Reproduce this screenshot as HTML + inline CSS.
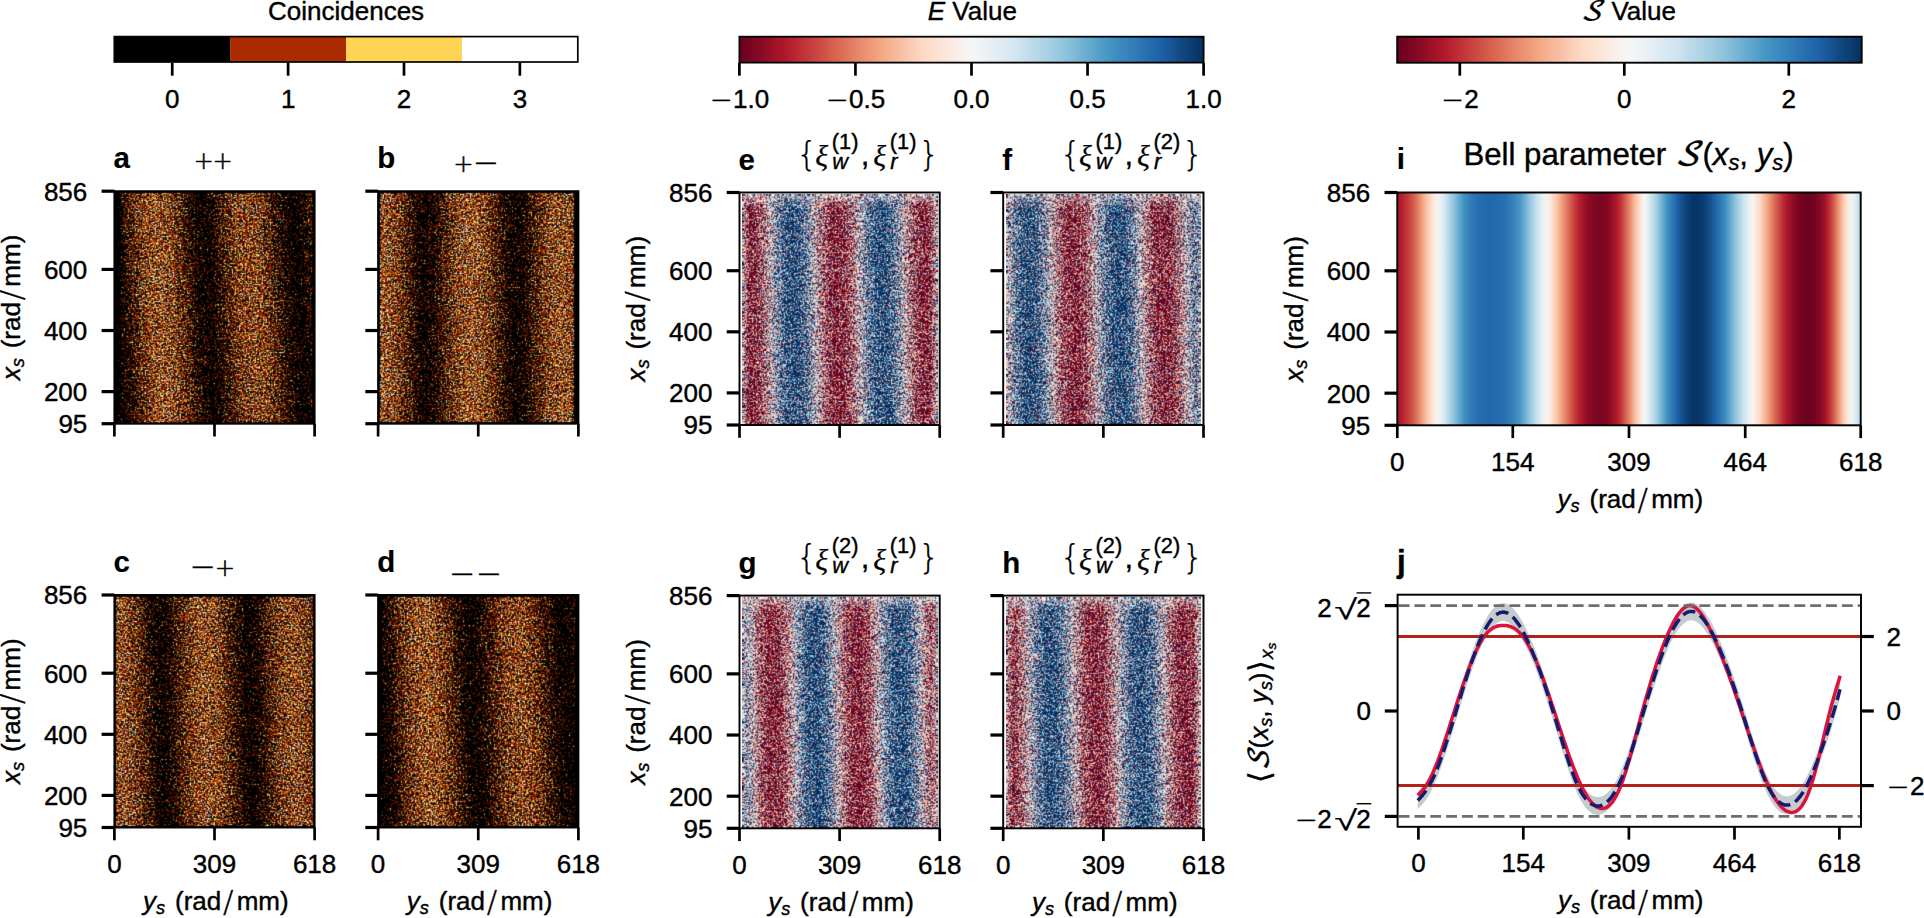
<!DOCTYPE html>
<html lang="en"><head><meta charset="utf-8"><title>Bell parameter figure</title>
<style>html,body{margin:0;padding:0;background:#fff;overflow:hidden}svg{display:block}text{stroke:#000;stroke-width:0.4px;stroke-linejoin:round}</style></head>
<body>
<svg width="1924" height="918" viewBox="0 0 1924 918" font-family="'Liberation Sans', sans-serif" font-size="26" fill="#000">
<rect width="1924" height="918" fill="#fff"/>
<defs><linearGradient id="rdbu" x1="0" x2="1" y1="0" y2="0"><stop offset="0.0000" stop-color="#67001f"/><stop offset="0.0250" stop-color="#790622"/><stop offset="0.0500" stop-color="#8a0b25"/><stop offset="0.0750" stop-color="#9f1228"/><stop offset="0.1000" stop-color="#b1182b"/><stop offset="0.1250" stop-color="#bb2a34"/><stop offset="0.1500" stop-color="#c43b3c"/><stop offset="0.1750" stop-color="#cc4c44"/><stop offset="0.2000" stop-color="#d6604d"/><stop offset="0.2250" stop-color="#dd7059"/><stop offset="0.2500" stop-color="#e58368"/><stop offset="0.2750" stop-color="#ec9374"/><stop offset="0.3000" stop-color="#f3a481"/><stop offset="0.3250" stop-color="#f6b394"/><stop offset="0.3500" stop-color="#f8bfa4"/><stop offset="0.3750" stop-color="#fbceb7"/><stop offset="0.4000" stop-color="#fddbc7"/><stop offset="0.4250" stop-color="#fce2d2"/><stop offset="0.4500" stop-color="#fae9df"/><stop offset="0.4750" stop-color="#f9f0eb"/><stop offset="0.5000" stop-color="#f6f7f7"/><stop offset="0.5250" stop-color="#edf2f5"/><stop offset="0.5500" stop-color="#e4eef4"/><stop offset="0.5750" stop-color="#dae9f2"/><stop offset="0.6000" stop-color="#d1e5f0"/><stop offset="0.6250" stop-color="#c0dceb"/><stop offset="0.6500" stop-color="#b1d5e7"/><stop offset="0.6750" stop-color="#a2cde3"/><stop offset="0.7000" stop-color="#90c4dd"/><stop offset="0.7250" stop-color="#7eb8d7"/><stop offset="0.7500" stop-color="#68abd0"/><stop offset="0.7750" stop-color="#569fc9"/><stop offset="0.8000" stop-color="#4393c3"/><stop offset="0.8250" stop-color="#3a87bd"/><stop offset="0.8500" stop-color="#327cb7"/><stop offset="0.8750" stop-color="#2870b1"/><stop offset="0.9000" stop-color="#2065ab"/><stop offset="0.9250" stop-color="#1a5899"/><stop offset="0.9500" stop-color="#124984"/><stop offset="0.9750" stop-color="#0c3d73"/><stop offset="1.0000" stop-color="#053061"/></linearGradient><linearGradient id="gi" x1="0" x2="1" y1="0" y2="0"><stop offset="0.0000" stop-color="#ab162a"/><stop offset="0.0083" stop-color="#b41c2d"/><stop offset="0.0167" stop-color="#bd2d35"/><stop offset="0.0250" stop-color="#c6413e"/><stop offset="0.0333" stop-color="#d25849"/><stop offset="0.0417" stop-color="#de735c"/><stop offset="0.0500" stop-color="#ec9374"/><stop offset="0.0583" stop-color="#f6b191"/><stop offset="0.0667" stop-color="#fbccb4"/><stop offset="0.0750" stop-color="#fce2d2"/><stop offset="0.0833" stop-color="#f9f0eb"/><stop offset="0.0917" stop-color="#edf2f5"/><stop offset="0.1000" stop-color="#dae9f2"/><stop offset="0.1083" stop-color="#c0dceb"/><stop offset="0.1167" stop-color="#a2cde3"/><stop offset="0.1250" stop-color="#84bcd9"/><stop offset="0.1333" stop-color="#65a9cf"/><stop offset="0.1417" stop-color="#4997c5"/><stop offset="0.1500" stop-color="#3b88be"/><stop offset="0.1583" stop-color="#327cb7"/><stop offset="0.1667" stop-color="#2c75b4"/><stop offset="0.1750" stop-color="#276eb0"/><stop offset="0.1833" stop-color="#246aae"/><stop offset="0.1917" stop-color="#2369ad"/><stop offset="0.2000" stop-color="#2267ac"/><stop offset="0.2083" stop-color="#2369ad"/><stop offset="0.2167" stop-color="#2369ad"/><stop offset="0.2250" stop-color="#266caf"/><stop offset="0.2333" stop-color="#2a71b2"/><stop offset="0.2417" stop-color="#2f79b5"/><stop offset="0.2500" stop-color="#3681ba"/><stop offset="0.2583" stop-color="#3f8ec0"/><stop offset="0.2667" stop-color="#4f9bc7"/><stop offset="0.2750" stop-color="#6bacd1"/><stop offset="0.2833" stop-color="#8ac0db"/><stop offset="0.2917" stop-color="#a7d0e4"/><stop offset="0.3000" stop-color="#c5dfec"/><stop offset="0.3083" stop-color="#dbeaf2"/><stop offset="0.3167" stop-color="#edf2f5"/><stop offset="0.3250" stop-color="#f9f0eb"/><stop offset="0.3333" stop-color="#fce2d2"/><stop offset="0.3417" stop-color="#fbccb4"/><stop offset="0.3500" stop-color="#f6b191"/><stop offset="0.3583" stop-color="#ec9374"/><stop offset="0.3667" stop-color="#df765e"/><stop offset="0.3750" stop-color="#d25849"/><stop offset="0.3833" stop-color="#c43b3c"/><stop offset="0.3917" stop-color="#b72230"/><stop offset="0.4000" stop-color="#a81529"/><stop offset="0.4083" stop-color="#930e26"/><stop offset="0.4167" stop-color="#870a24"/><stop offset="0.4250" stop-color="#7f0823"/><stop offset="0.4333" stop-color="#790622"/><stop offset="0.4417" stop-color="#7c0722"/><stop offset="0.4500" stop-color="#810823"/><stop offset="0.4583" stop-color="#8d0c25"/><stop offset="0.4667" stop-color="#9f1228"/><stop offset="0.4750" stop-color="#b41c2d"/><stop offset="0.4833" stop-color="#c2383a"/><stop offset="0.4917" stop-color="#d55d4c"/><stop offset="0.5000" stop-color="#e58368"/><stop offset="0.5083" stop-color="#f5aa89"/><stop offset="0.5167" stop-color="#fbccb4"/><stop offset="0.5250" stop-color="#fbe5d8"/><stop offset="0.5333" stop-color="#f7f6f6"/><stop offset="0.5417" stop-color="#e1edf3"/><stop offset="0.5500" stop-color="#c7e0ed"/><stop offset="0.5583" stop-color="#a7d0e4"/><stop offset="0.5667" stop-color="#84bcd9"/><stop offset="0.5750" stop-color="#5ca3cb"/><stop offset="0.5833" stop-color="#3f8ec0"/><stop offset="0.5917" stop-color="#327cb7"/><stop offset="0.6000" stop-color="#246aae"/><stop offset="0.6083" stop-color="#1b5a9c"/><stop offset="0.6167" stop-color="#134c87"/><stop offset="0.6250" stop-color="#0e4179"/><stop offset="0.6333" stop-color="#09386d"/><stop offset="0.6417" stop-color="#073467"/><stop offset="0.6500" stop-color="#08366a"/><stop offset="0.6583" stop-color="#0a3b70"/><stop offset="0.6667" stop-color="#0f437b"/><stop offset="0.6750" stop-color="#15508d"/><stop offset="0.6833" stop-color="#1d5fa2"/><stop offset="0.6917" stop-color="#276eb0"/><stop offset="0.7000" stop-color="#337eb8"/><stop offset="0.7083" stop-color="#408fc1"/><stop offset="0.7167" stop-color="#5ca3cb"/><stop offset="0.7250" stop-color="#7eb8d7"/><stop offset="0.7333" stop-color="#9dcbe1"/><stop offset="0.7417" stop-color="#bbdaea"/><stop offset="0.7500" stop-color="#d5e7f1"/><stop offset="0.7583" stop-color="#e7f0f4"/><stop offset="0.7667" stop-color="#f8f4f2"/><stop offset="0.7750" stop-color="#fbe6da"/><stop offset="0.7833" stop-color="#fcd7c2"/><stop offset="0.7917" stop-color="#f8bb9e"/><stop offset="0.8000" stop-color="#f2a17f"/><stop offset="0.8083" stop-color="#e48066"/><stop offset="0.8167" stop-color="#d7634f"/><stop offset="0.8250" stop-color="#c84440"/><stop offset="0.8333" stop-color="#bb2a34"/><stop offset="0.8417" stop-color="#ab162a"/><stop offset="0.8500" stop-color="#960f27"/><stop offset="0.8583" stop-color="#840924"/><stop offset="0.8667" stop-color="#790622"/><stop offset="0.8750" stop-color="#700320"/><stop offset="0.8833" stop-color="#6d0220"/><stop offset="0.8917" stop-color="#6d0220"/><stop offset="0.9000" stop-color="#730421"/><stop offset="0.9083" stop-color="#7f0823"/><stop offset="0.9167" stop-color="#900d26"/><stop offset="0.9250" stop-color="#ab162a"/><stop offset="0.9333" stop-color="#bf3338"/><stop offset="0.9417" stop-color="#d35a4a"/><stop offset="0.9500" stop-color="#e8896c"/><stop offset="0.9583" stop-color="#f7b596"/><stop offset="0.9667" stop-color="#fddbc7"/><stop offset="0.9750" stop-color="#f9eee7"/><stop offset="0.9833" stop-color="#ecf2f5"/><stop offset="0.9917" stop-color="#d5e7f1"/><stop offset="1.0000" stop-color="#b6d7e8"/></linearGradient><filter id="fca" x="0" y="0" width="1" height="1" color-interpolation-filters="sRGB"><feTurbulence type="fractalNoise" baseFrequency="0.71" numOctaves="2" seed="11" result="t"/><feColorMatrix in="t" type="matrix" values="1 0 0 0 0 1 0 0 0 0 1 0 0 0 0 0 0 0 0 1" result="n"/><feComposite in="SourceGraphic" in2="n" operator="arithmetic" k1="0" k2="1" k3="1.27" k4="-0.63" result="v"/><feComponentTransfer in="v"><feFuncR type="discrete" tableValues="0 0 0 0 0 0 0 0 0 0 0 0 0 0 0 0 0 0 0 0 0.667 0.667 0.667 0.667 0.667 0.667 1 1 1 1 1 1 1 1 1 1 1 1 1 1"/><feFuncG type="discrete" tableValues="0 0 0 0 0 0 0 0 0 0 0 0 0 0 0 0 0 0 0 0 0.169 0.169 0.169 0.169 0.169 0.169 0.831 0.831 0.831 0.831 0.831 1 1 1 1 1 1 1 1 1"/><feFuncB type="discrete" tableValues="0 0 0 0 0 0 0 0 0 0 0 0 0 0 0 0 0 0 0 0 0 0 0 0 0 0 0.333 0.333 0.333 0.333 0.333 1 1 1 1 1 1 1 1 1"/></feComponentTransfer><feConvolveMatrix order="3" kernelMatrix="0.0742 0.2723 0.0742 0.2723 1.0000 0.2723 0.0742 0.2723 0.0742" divisor="2.3860" edgeMode="duplicate" preserveAlpha="true"/></filter><filter id="fcb" x="0" y="0" width="1" height="1" color-interpolation-filters="sRGB"><feTurbulence type="fractalNoise" baseFrequency="0.71" numOctaves="2" seed="18" result="t"/><feColorMatrix in="t" type="matrix" values="1 0 0 0 0 1 0 0 0 0 1 0 0 0 0 0 0 0 0 1" result="n"/><feComposite in="SourceGraphic" in2="n" operator="arithmetic" k1="0" k2="1" k3="1.27" k4="-0.63" result="v"/><feComponentTransfer in="v"><feFuncR type="discrete" tableValues="0 0 0 0 0 0 0 0 0 0 0 0 0 0 0 0 0 0 0 0 0.667 0.667 0.667 0.667 0.667 0.667 1 1 1 1 1 1 1 1 1 1 1 1 1 1"/><feFuncG type="discrete" tableValues="0 0 0 0 0 0 0 0 0 0 0 0 0 0 0 0 0 0 0 0 0.169 0.169 0.169 0.169 0.169 0.169 0.831 0.831 0.831 0.831 0.831 1 1 1 1 1 1 1 1 1"/><feFuncB type="discrete" tableValues="0 0 0 0 0 0 0 0 0 0 0 0 0 0 0 0 0 0 0 0 0 0 0 0 0 0 0.333 0.333 0.333 0.333 0.333 1 1 1 1 1 1 1 1 1"/></feComponentTransfer><feConvolveMatrix order="3" kernelMatrix="0.0742 0.2723 0.0742 0.2723 1.0000 0.2723 0.0742 0.2723 0.0742" divisor="2.3860" edgeMode="duplicate" preserveAlpha="true"/></filter><filter id="fcc" x="0" y="0" width="1" height="1" color-interpolation-filters="sRGB"><feTurbulence type="fractalNoise" baseFrequency="0.71" numOctaves="2" seed="25" result="t"/><feColorMatrix in="t" type="matrix" values="1 0 0 0 0 1 0 0 0 0 1 0 0 0 0 0 0 0 0 1" result="n"/><feComposite in="SourceGraphic" in2="n" operator="arithmetic" k1="0" k2="1" k3="1.27" k4="-0.63" result="v"/><feComponentTransfer in="v"><feFuncR type="discrete" tableValues="0 0 0 0 0 0 0 0 0 0 0 0 0 0 0 0 0 0 0 0 0.667 0.667 0.667 0.667 0.667 0.667 1 1 1 1 1 1 1 1 1 1 1 1 1 1"/><feFuncG type="discrete" tableValues="0 0 0 0 0 0 0 0 0 0 0 0 0 0 0 0 0 0 0 0 0.169 0.169 0.169 0.169 0.169 0.169 0.831 0.831 0.831 0.831 0.831 1 1 1 1 1 1 1 1 1"/><feFuncB type="discrete" tableValues="0 0 0 0 0 0 0 0 0 0 0 0 0 0 0 0 0 0 0 0 0 0 0 0 0 0 0.333 0.333 0.333 0.333 0.333 1 1 1 1 1 1 1 1 1"/></feComponentTransfer><feConvolveMatrix order="3" kernelMatrix="0.0742 0.2723 0.0742 0.2723 1.0000 0.2723 0.0742 0.2723 0.0742" divisor="2.3860" edgeMode="duplicate" preserveAlpha="true"/></filter><filter id="fcd" x="0" y="0" width="1" height="1" color-interpolation-filters="sRGB"><feTurbulence type="fractalNoise" baseFrequency="0.71" numOctaves="2" seed="32" result="t"/><feColorMatrix in="t" type="matrix" values="1 0 0 0 0 1 0 0 0 0 1 0 0 0 0 0 0 0 0 1" result="n"/><feComposite in="SourceGraphic" in2="n" operator="arithmetic" k1="0" k2="1" k3="1.27" k4="-0.63" result="v"/><feComponentTransfer in="v"><feFuncR type="discrete" tableValues="0 0 0 0 0 0 0 0 0 0 0 0 0 0 0 0 0 0 0 0 0.667 0.667 0.667 0.667 0.667 0.667 1 1 1 1 1 1 1 1 1 1 1 1 1 1"/><feFuncG type="discrete" tableValues="0 0 0 0 0 0 0 0 0 0 0 0 0 0 0 0 0 0 0 0 0.169 0.169 0.169 0.169 0.169 0.169 0.831 0.831 0.831 0.831 0.831 1 1 1 1 1 1 1 1 1"/><feFuncB type="discrete" tableValues="0 0 0 0 0 0 0 0 0 0 0 0 0 0 0 0 0 0 0 0 0 0 0 0 0 0 0.333 0.333 0.333 0.333 0.333 1 1 1 1 1 1 1 1 1"/></feComponentTransfer><feConvolveMatrix order="3" kernelMatrix="0.0742 0.2723 0.0742 0.2723 1.0000 0.2723 0.0742 0.2723 0.0742" divisor="2.3860" edgeMode="duplicate" preserveAlpha="true"/></filter><filter id="fce" x="0" y="0" width="1" height="1" color-interpolation-filters="sRGB"><feTurbulence type="fractalNoise" baseFrequency="0.71" numOctaves="2" seed="5" result="t"/><feColorMatrix in="t" type="matrix" values="1 0 0 0 0 1 0 0 0 0 1 0 0 0 0 0 0 0 0 1" result="n"/><feColorMatrix in="t" type="matrix" values="0 1 0 0 0 0 1 0 0 0 0 1 0 0 0 0 0 0 0 1" result="n2"/><feComponentTransfer in="SourceGraphic" result="u"><feFuncR type="table" tableValues="0.639 0.639 0.639 0.639 0.639 0.603 0.575 0.55 0.528 0.506 0.485 0.506 0.528 0.55 0.575 0.603 0.639 0.639 0.639 0.639 0.639"/><feFuncG type="table" tableValues="0.639 0.639 0.639 0.639 0.639 0.603 0.575 0.55 0.528 0.506 0.485 0.506 0.528 0.55 0.575 0.603 0.639 0.639 0.639 0.639 0.639"/><feFuncB type="table" tableValues="0.639 0.639 0.639 0.639 0.639 0.603 0.575 0.55 0.528 0.506 0.485 0.506 0.528 0.55 0.575 0.603 0.639 0.639 0.639 0.639 0.639"/></feComponentTransfer><feComposite in="n2" in2="u" operator="arithmetic" k1="0" k2="1" k3="1" k4="-0.5" result="d"/><feComponentTransfer in="d" result="m"><feFuncR type="discrete" tableValues="0 1"/><feFuncG type="discrete" tableValues="0 1"/><feFuncB type="discrete" tableValues="0 1"/></feComponentTransfer><feComposite in="SourceGraphic" in2="n" operator="arithmetic" k1="0" k2="3.6" k3="6.33" k4="-4.46" result="v0"/><feComposite in="v0" in2="m" operator="arithmetic" k1="0.7" k2="0.3" k3="-0.35" k4="0.35" result="v"/><feComponentTransfer in="v"><feFuncR type="table" tableValues="0.404 0.692 0.839 0.955 0.992 0.966 0.82 0.566 0.263 0.127 0.02"/><feFuncG type="table" tableValues="0 0.092 0.376 0.642 0.859 0.967 0.898 0.769 0.576 0.396 0.188"/><feFuncB type="table" tableValues="0.122 0.168 0.302 0.506 0.78 0.968 0.941 0.869 0.765 0.669 0.38"/><feFuncA type="linear" slope="0" intercept="1"/></feComponentTransfer><feConvolveMatrix order="3" kernelMatrix="0.0742 0.2723 0.0742 0.2723 1.0000 0.2723 0.0742 0.2723 0.0742" divisor="2.3860" edgeMode="duplicate" preserveAlpha="true"/></filter><filter id="fcf" x="0" y="0" width="1" height="1" color-interpolation-filters="sRGB"><feTurbulence type="fractalNoise" baseFrequency="0.71" numOctaves="2" seed="18" result="t"/><feColorMatrix in="t" type="matrix" values="1 0 0 0 0 1 0 0 0 0 1 0 0 0 0 0 0 0 0 1" result="n"/><feColorMatrix in="t" type="matrix" values="0 1 0 0 0 0 1 0 0 0 0 1 0 0 0 0 0 0 0 1" result="n2"/><feComponentTransfer in="SourceGraphic" result="u"><feFuncR type="table" tableValues="0.639 0.639 0.639 0.639 0.639 0.603 0.575 0.55 0.528 0.506 0.485 0.506 0.528 0.55 0.575 0.603 0.639 0.639 0.639 0.639 0.639"/><feFuncG type="table" tableValues="0.639 0.639 0.639 0.639 0.639 0.603 0.575 0.55 0.528 0.506 0.485 0.506 0.528 0.55 0.575 0.603 0.639 0.639 0.639 0.639 0.639"/><feFuncB type="table" tableValues="0.639 0.639 0.639 0.639 0.639 0.603 0.575 0.55 0.528 0.506 0.485 0.506 0.528 0.55 0.575 0.603 0.639 0.639 0.639 0.639 0.639"/></feComponentTransfer><feComposite in="n2" in2="u" operator="arithmetic" k1="0" k2="1" k3="1" k4="-0.5" result="d"/><feComponentTransfer in="d" result="m"><feFuncR type="discrete" tableValues="0 1"/><feFuncG type="discrete" tableValues="0 1"/><feFuncB type="discrete" tableValues="0 1"/></feComponentTransfer><feComposite in="SourceGraphic" in2="n" operator="arithmetic" k1="0" k2="3.6" k3="6.33" k4="-4.46" result="v0"/><feComposite in="v0" in2="m" operator="arithmetic" k1="0.7" k2="0.3" k3="-0.35" k4="0.35" result="v"/><feComponentTransfer in="v"><feFuncR type="table" tableValues="0.404 0.692 0.839 0.955 0.992 0.966 0.82 0.566 0.263 0.127 0.02"/><feFuncG type="table" tableValues="0 0.092 0.376 0.642 0.859 0.967 0.898 0.769 0.576 0.396 0.188"/><feFuncB type="table" tableValues="0.122 0.168 0.302 0.506 0.78 0.968 0.941 0.869 0.765 0.669 0.38"/><feFuncA type="linear" slope="0" intercept="1"/></feComponentTransfer><feConvolveMatrix order="3" kernelMatrix="0.0742 0.2723 0.0742 0.2723 1.0000 0.2723 0.0742 0.2723 0.0742" divisor="2.3860" edgeMode="duplicate" preserveAlpha="true"/></filter><filter id="fcg" x="0" y="0" width="1" height="1" color-interpolation-filters="sRGB"><feTurbulence type="fractalNoise" baseFrequency="0.71" numOctaves="2" seed="31" result="t"/><feColorMatrix in="t" type="matrix" values="1 0 0 0 0 1 0 0 0 0 1 0 0 0 0 0 0 0 0 1" result="n"/><feColorMatrix in="t" type="matrix" values="0 1 0 0 0 0 1 0 0 0 0 1 0 0 0 0 0 0 0 1" result="n2"/><feComponentTransfer in="SourceGraphic" result="u"><feFuncR type="table" tableValues="0.639 0.639 0.639 0.639 0.639 0.603 0.575 0.55 0.528 0.506 0.485 0.506 0.528 0.55 0.575 0.603 0.639 0.639 0.639 0.639 0.639"/><feFuncG type="table" tableValues="0.639 0.639 0.639 0.639 0.639 0.603 0.575 0.55 0.528 0.506 0.485 0.506 0.528 0.55 0.575 0.603 0.639 0.639 0.639 0.639 0.639"/><feFuncB type="table" tableValues="0.639 0.639 0.639 0.639 0.639 0.603 0.575 0.55 0.528 0.506 0.485 0.506 0.528 0.55 0.575 0.603 0.639 0.639 0.639 0.639 0.639"/></feComponentTransfer><feComposite in="n2" in2="u" operator="arithmetic" k1="0" k2="1" k3="1" k4="-0.5" result="d"/><feComponentTransfer in="d" result="m"><feFuncR type="discrete" tableValues="0 1"/><feFuncG type="discrete" tableValues="0 1"/><feFuncB type="discrete" tableValues="0 1"/></feComponentTransfer><feComposite in="SourceGraphic" in2="n" operator="arithmetic" k1="0" k2="3.6" k3="6.33" k4="-4.46" result="v0"/><feComposite in="v0" in2="m" operator="arithmetic" k1="0.7" k2="0.3" k3="-0.35" k4="0.35" result="v"/><feComponentTransfer in="v"><feFuncR type="table" tableValues="0.404 0.692 0.839 0.955 0.992 0.966 0.82 0.566 0.263 0.127 0.02"/><feFuncG type="table" tableValues="0 0.092 0.376 0.642 0.859 0.967 0.898 0.769 0.576 0.396 0.188"/><feFuncB type="table" tableValues="0.122 0.168 0.302 0.506 0.78 0.968 0.941 0.869 0.765 0.669 0.38"/><feFuncA type="linear" slope="0" intercept="1"/></feComponentTransfer><feConvolveMatrix order="3" kernelMatrix="0.0742 0.2723 0.0742 0.2723 1.0000 0.2723 0.0742 0.2723 0.0742" divisor="2.3860" edgeMode="duplicate" preserveAlpha="true"/></filter><filter id="fch" x="0" y="0" width="1" height="1" color-interpolation-filters="sRGB"><feTurbulence type="fractalNoise" baseFrequency="0.71" numOctaves="2" seed="44" result="t"/><feColorMatrix in="t" type="matrix" values="1 0 0 0 0 1 0 0 0 0 1 0 0 0 0 0 0 0 0 1" result="n"/><feColorMatrix in="t" type="matrix" values="0 1 0 0 0 0 1 0 0 0 0 1 0 0 0 0 0 0 0 1" result="n2"/><feComponentTransfer in="SourceGraphic" result="u"><feFuncR type="table" tableValues="0.639 0.639 0.639 0.639 0.639 0.603 0.575 0.55 0.528 0.506 0.485 0.506 0.528 0.55 0.575 0.603 0.639 0.639 0.639 0.639 0.639"/><feFuncG type="table" tableValues="0.639 0.639 0.639 0.639 0.639 0.603 0.575 0.55 0.528 0.506 0.485 0.506 0.528 0.55 0.575 0.603 0.639 0.639 0.639 0.639 0.639"/><feFuncB type="table" tableValues="0.639 0.639 0.639 0.639 0.639 0.603 0.575 0.55 0.528 0.506 0.485 0.506 0.528 0.55 0.575 0.603 0.639 0.639 0.639 0.639 0.639"/></feComponentTransfer><feComposite in="n2" in2="u" operator="arithmetic" k1="0" k2="1" k3="1" k4="-0.5" result="d"/><feComponentTransfer in="d" result="m"><feFuncR type="discrete" tableValues="0 1"/><feFuncG type="discrete" tableValues="0 1"/><feFuncB type="discrete" tableValues="0 1"/></feComponentTransfer><feComposite in="SourceGraphic" in2="n" operator="arithmetic" k1="0" k2="3.6" k3="6.33" k4="-4.46" result="v0"/><feComposite in="v0" in2="m" operator="arithmetic" k1="0.7" k2="0.3" k3="-0.35" k4="0.35" result="v"/><feComponentTransfer in="v"><feFuncR type="table" tableValues="0.404 0.692 0.839 0.955 0.992 0.966 0.82 0.566 0.263 0.127 0.02"/><feFuncG type="table" tableValues="0 0.092 0.376 0.642 0.859 0.967 0.898 0.769 0.576 0.396 0.188"/><feFuncB type="table" tableValues="0.122 0.168 0.302 0.506 0.78 0.968 0.941 0.869 0.765 0.669 0.38"/><feFuncA type="linear" slope="0" intercept="1"/></feComponentTransfer><feConvolveMatrix order="3" kernelMatrix="0.0742 0.2723 0.0742 0.2723 1.0000 0.2723 0.0742 0.2723 0.0742" divisor="2.3860" edgeMode="duplicate" preserveAlpha="true"/></filter><linearGradient id="ga" gradientUnits="userSpaceOnUse" x1="161.45" y1="0" x2="252.95" y2="0" spreadMethod="repeat" gradientTransform="translate(0 307.45) skewX(3.08) translate(0 -307.45)"><stop offset="0.0000" stop-color="#949494"/><stop offset="0.0417" stop-color="#939393"/><stop offset="0.0833" stop-color="#919191"/><stop offset="0.1250" stop-color="#8e8e8e"/><stop offset="0.1667" stop-color="#8a8a8a"/><stop offset="0.2083" stop-color="#848484"/><stop offset="0.2500" stop-color="#7d7d7d"/><stop offset="0.2917" stop-color="#767676"/><stop offset="0.3333" stop-color="#6d6d6d"/><stop offset="0.3750" stop-color="#636363"/><stop offset="0.4167" stop-color="#595959"/><stop offset="0.4583" stop-color="#515151"/><stop offset="0.5000" stop-color="#4d4d4d"/><stop offset="0.5417" stop-color="#515151"/><stop offset="0.5833" stop-color="#595959"/><stop offset="0.6250" stop-color="#636363"/><stop offset="0.6667" stop-color="#6d6d6d"/><stop offset="0.7083" stop-color="#767676"/><stop offset="0.7500" stop-color="#7d7d7d"/><stop offset="0.7917" stop-color="#848484"/><stop offset="0.8333" stop-color="#8a8a8a"/><stop offset="0.8750" stop-color="#8e8e8e"/><stop offset="0.9167" stop-color="#919191"/><stop offset="0.9583" stop-color="#939393"/><stop offset="1.0000" stop-color="#949494"/></linearGradient><linearGradient id="rpa" x1="0" y1="0" x2="1" y2="0"><stop offset="0" stop-color="#000" stop-opacity="0"/><stop offset="1" stop-color="#000" stop-opacity="0.07"/></linearGradient><linearGradient id="eLa" x1="0" y1="0" x2="1" y2="0"><stop offset="0" stop-color="#000"/><stop offset="0.125" stop-color="#000"/><stop offset="1" stop-color="#000" stop-opacity="0"/></linearGradient><linearGradient id="eRa" x1="1" y1="0" x2="0" y2="0"><stop offset="0" stop-color="#000"/><stop offset="0.333" stop-color="#000"/><stop offset="1" stop-color="#000" stop-opacity="0"/></linearGradient><linearGradient id="eTa" x1="0" y1="0" x2="0" y2="1"><stop offset="0" stop-color="#000"/><stop offset="0.500" stop-color="#000"/><stop offset="1" stop-color="#000" stop-opacity="0"/></linearGradient><linearGradient id="eBa" x1="0" y1="1" x2="0" y2="0"><stop offset="0" stop-color="#000"/><stop offset="0.333" stop-color="#000"/><stop offset="1" stop-color="#000" stop-opacity="0"/></linearGradient><linearGradient id="gb" gradientUnits="userSpaceOnUse" x1="471.24" y1="0" x2="561.74" y2="0" spreadMethod="repeat" gradientTransform="translate(0 307.45) skewX(0.62) translate(0 -307.45)"><stop offset="0.0000" stop-color="#949494"/><stop offset="0.0417" stop-color="#939393"/><stop offset="0.0833" stop-color="#919191"/><stop offset="0.1250" stop-color="#8e8e8e"/><stop offset="0.1667" stop-color="#8a8a8a"/><stop offset="0.2083" stop-color="#848484"/><stop offset="0.2500" stop-color="#7d7d7d"/><stop offset="0.2917" stop-color="#767676"/><stop offset="0.3333" stop-color="#6d6d6d"/><stop offset="0.3750" stop-color="#636363"/><stop offset="0.4167" stop-color="#595959"/><stop offset="0.4583" stop-color="#515151"/><stop offset="0.5000" stop-color="#4d4d4d"/><stop offset="0.5417" stop-color="#515151"/><stop offset="0.5833" stop-color="#595959"/><stop offset="0.6250" stop-color="#636363"/><stop offset="0.6667" stop-color="#6d6d6d"/><stop offset="0.7083" stop-color="#767676"/><stop offset="0.7500" stop-color="#7d7d7d"/><stop offset="0.7917" stop-color="#848484"/><stop offset="0.8333" stop-color="#8a8a8a"/><stop offset="0.8750" stop-color="#8e8e8e"/><stop offset="0.9167" stop-color="#919191"/><stop offset="0.9583" stop-color="#939393"/><stop offset="1.0000" stop-color="#949494"/></linearGradient><linearGradient id="rpb" x1="0" y1="0" x2="1" y2="0"><stop offset="0" stop-color="#000" stop-opacity="0"/><stop offset="1" stop-color="#000" stop-opacity="0.02"/></linearGradient><linearGradient id="eLb" x1="0" y1="0" x2="1" y2="0"><stop offset="0" stop-color="#000"/><stop offset="0.500" stop-color="#000"/><stop offset="1" stop-color="#000" stop-opacity="0"/></linearGradient><linearGradient id="eRb" x1="1" y1="0" x2="0" y2="0"><stop offset="0" stop-color="#000"/><stop offset="0.800" stop-color="#000"/><stop offset="1" stop-color="#000" stop-opacity="0"/></linearGradient><linearGradient id="eTb" x1="0" y1="0" x2="0" y2="1"><stop offset="0" stop-color="#000"/><stop offset="0.500" stop-color="#000"/><stop offset="1" stop-color="#000" stop-opacity="0"/></linearGradient><linearGradient id="eBb" x1="0" y1="1" x2="0" y2="0"><stop offset="0" stop-color="#000"/><stop offset="0.750" stop-color="#000"/><stop offset="1" stop-color="#000" stop-opacity="0"/></linearGradient><linearGradient id="gc" gradientUnits="userSpaceOnUse" x1="206.49" y1="0" x2="294.99" y2="0" spreadMethod="repeat" gradientTransform="translate(0 711.25) skewX(1.48) translate(0 -711.25)"><stop offset="0.0000" stop-color="#929292"/><stop offset="0.0417" stop-color="#919191"/><stop offset="0.0833" stop-color="#8f8f8f"/><stop offset="0.1250" stop-color="#8c8c8c"/><stop offset="0.1667" stop-color="#888888"/><stop offset="0.2083" stop-color="#838383"/><stop offset="0.2500" stop-color="#7c7c7c"/><stop offset="0.2917" stop-color="#747474"/><stop offset="0.3333" stop-color="#6c6c6c"/><stop offset="0.3750" stop-color="#626262"/><stop offset="0.4167" stop-color="#585858"/><stop offset="0.4583" stop-color="#505050"/><stop offset="0.5000" stop-color="#4c4c4c"/><stop offset="0.5417" stop-color="#505050"/><stop offset="0.5833" stop-color="#585858"/><stop offset="0.6250" stop-color="#626262"/><stop offset="0.6667" stop-color="#6c6c6c"/><stop offset="0.7083" stop-color="#747474"/><stop offset="0.7500" stop-color="#7c7c7c"/><stop offset="0.7917" stop-color="#838383"/><stop offset="0.8333" stop-color="#888888"/><stop offset="0.8750" stop-color="#8c8c8c"/><stop offset="0.9167" stop-color="#8f8f8f"/><stop offset="0.9583" stop-color="#919191"/><stop offset="1.0000" stop-color="#929292"/></linearGradient><linearGradient id="rpc" x1="0" y1="0" x2="1" y2="0"><stop offset="0" stop-color="#000" stop-opacity="0"/><stop offset="1" stop-color="#000" stop-opacity="0.02"/></linearGradient><linearGradient id="eLc" x1="0" y1="0" x2="1" y2="0"><stop offset="0" stop-color="#000"/><stop offset="0.500" stop-color="#000"/><stop offset="1" stop-color="#000" stop-opacity="0"/></linearGradient><linearGradient id="eRc" x1="1" y1="0" x2="0" y2="0"><stop offset="0" stop-color="#000"/><stop offset="0.500" stop-color="#000"/><stop offset="1" stop-color="#000" stop-opacity="0"/></linearGradient><linearGradient id="eTc" x1="0" y1="0" x2="0" y2="1"><stop offset="0" stop-color="#000"/><stop offset="0.500" stop-color="#000"/><stop offset="1" stop-color="#000" stop-opacity="0"/></linearGradient><linearGradient id="eBc" x1="0" y1="1" x2="0" y2="0"><stop offset="0" stop-color="#000"/><stop offset="0.667" stop-color="#000"/><stop offset="1" stop-color="#000" stop-opacity="0"/></linearGradient><linearGradient id="gd" gradientUnits="userSpaceOnUse" x1="428.18" y1="0" x2="520.67" y2="0" spreadMethod="repeat" gradientTransform="translate(0 711.25) skewX(2.46) translate(0 -711.25)"><stop offset="0.0000" stop-color="#949494"/><stop offset="0.0417" stop-color="#939393"/><stop offset="0.0833" stop-color="#919191"/><stop offset="0.1250" stop-color="#8e8e8e"/><stop offset="0.1667" stop-color="#8a8a8a"/><stop offset="0.2083" stop-color="#848484"/><stop offset="0.2500" stop-color="#7d7d7d"/><stop offset="0.2917" stop-color="#767676"/><stop offset="0.3333" stop-color="#6d6d6d"/><stop offset="0.3750" stop-color="#636363"/><stop offset="0.4167" stop-color="#595959"/><stop offset="0.4583" stop-color="#515151"/><stop offset="0.5000" stop-color="#4d4d4d"/><stop offset="0.5417" stop-color="#515151"/><stop offset="0.5833" stop-color="#595959"/><stop offset="0.6250" stop-color="#636363"/><stop offset="0.6667" stop-color="#6d6d6d"/><stop offset="0.7083" stop-color="#767676"/><stop offset="0.7500" stop-color="#7d7d7d"/><stop offset="0.7917" stop-color="#848484"/><stop offset="0.8333" stop-color="#8a8a8a"/><stop offset="0.8750" stop-color="#8e8e8e"/><stop offset="0.9167" stop-color="#919191"/><stop offset="0.9583" stop-color="#939393"/><stop offset="1.0000" stop-color="#949494"/></linearGradient><linearGradient id="rpd" x1="0" y1="0" x2="1" y2="0"><stop offset="0" stop-color="#000" stop-opacity="0"/><stop offset="1" stop-color="#000" stop-opacity="0.06"/></linearGradient><linearGradient id="eLd" x1="0" y1="0" x2="1" y2="0"><stop offset="0" stop-color="#000"/><stop offset="0.500" stop-color="#000"/><stop offset="1" stop-color="#000" stop-opacity="0"/></linearGradient><linearGradient id="eRd" x1="1" y1="0" x2="0" y2="0"><stop offset="0" stop-color="#000"/><stop offset="0.500" stop-color="#000"/><stop offset="1" stop-color="#000" stop-opacity="0"/></linearGradient><linearGradient id="eTd" x1="0" y1="0" x2="0" y2="1"><stop offset="0" stop-color="#000"/><stop offset="0.500" stop-color="#000"/><stop offset="1" stop-color="#000" stop-opacity="0"/></linearGradient><linearGradient id="eBd" x1="0" y1="1" x2="0" y2="0"><stop offset="0" stop-color="#000"/><stop offset="0.667" stop-color="#000"/><stop offset="1" stop-color="#000" stop-opacity="0"/></linearGradient><linearGradient id="ge" gradientUnits="userSpaceOnUse" x1="793.55" y1="0" x2="882.05" y2="0" spreadMethod="repeat" gradientTransform="translate(0 308.75) skewX(0.74) translate(0 -308.75)"><stop offset="0.0000" stop-color="#cccccc"/><stop offset="0.0625" stop-color="#c6c6c6"/><stop offset="0.1250" stop-color="#b6b6b6"/><stop offset="0.1875" stop-color="#9d9d9d"/><stop offset="0.2500" stop-color="#808080"/><stop offset="0.3125" stop-color="#626262"/><stop offset="0.3750" stop-color="#494949"/><stop offset="0.4375" stop-color="#393939"/><stop offset="0.5000" stop-color="#333333"/><stop offset="0.5625" stop-color="#393939"/><stop offset="0.6250" stop-color="#494949"/><stop offset="0.6875" stop-color="#626262"/><stop offset="0.7500" stop-color="#808080"/><stop offset="0.8125" stop-color="#9d9d9d"/><stop offset="0.8750" stop-color="#b6b6b6"/><stop offset="0.9375" stop-color="#c6c6c6"/><stop offset="1.0000" stop-color="#cccccc"/></linearGradient><linearGradient id="gtop" x1="0" y1="0" x2="0" y2="1"><stop offset="0" stop-color="#808080" stop-opacity="0.8"/><stop offset="0.4" stop-color="#808080" stop-opacity="0.45"/><stop offset="1" stop-color="#808080" stop-opacity="0"/></linearGradient><linearGradient id="glft" x1="0" y1="0" x2="1" y2="0"><stop offset="0" stop-color="#808080" stop-opacity="0.85"/><stop offset="0.45" stop-color="#808080" stop-opacity="0.5"/><stop offset="1" stop-color="#808080" stop-opacity="0"/></linearGradient><linearGradient id="grgt" x1="1" y1="0" x2="0" y2="0"><stop offset="0" stop-color="#808080" stop-opacity="0.85"/><stop offset="0.45" stop-color="#808080" stop-opacity="0.5"/><stop offset="1" stop-color="#808080" stop-opacity="0"/></linearGradient><linearGradient id="wtop" x1="0" y1="0" x2="0" y2="1"><stop offset="0" stop-color="#fff" stop-opacity="0.15"/><stop offset="1" stop-color="#fff" stop-opacity="0"/></linearGradient><linearGradient id="gf" gradientUnits="userSpaceOnUse" x1="1029.24" y1="0" x2="1119.24" y2="0" spreadMethod="repeat" gradientTransform="translate(0 308.75) skewX(0.74) translate(0 -308.75)"><stop offset="0.0000" stop-color="#cccccc"/><stop offset="0.0625" stop-color="#c6c6c6"/><stop offset="0.1250" stop-color="#b6b6b6"/><stop offset="0.1875" stop-color="#9d9d9d"/><stop offset="0.2500" stop-color="#808080"/><stop offset="0.3125" stop-color="#626262"/><stop offset="0.3750" stop-color="#494949"/><stop offset="0.4375" stop-color="#393939"/><stop offset="0.5000" stop-color="#333333"/><stop offset="0.5625" stop-color="#393939"/><stop offset="0.6250" stop-color="#494949"/><stop offset="0.6875" stop-color="#626262"/><stop offset="0.7500" stop-color="#808080"/><stop offset="0.8125" stop-color="#9d9d9d"/><stop offset="0.8750" stop-color="#b6b6b6"/><stop offset="0.9375" stop-color="#c6c6c6"/><stop offset="1.0000" stop-color="#cccccc"/></linearGradient><linearGradient id="gg" gradientUnits="userSpaceOnUse" x1="815.58" y1="0" x2="900.58" y2="0" spreadMethod="repeat" gradientTransform="translate(0 711.95) skewX(0.74) translate(0 -711.95)"><stop offset="0.0000" stop-color="#cccccc"/><stop offset="0.0625" stop-color="#c6c6c6"/><stop offset="0.1250" stop-color="#b6b6b6"/><stop offset="0.1875" stop-color="#9d9d9d"/><stop offset="0.2500" stop-color="#808080"/><stop offset="0.3125" stop-color="#626262"/><stop offset="0.3750" stop-color="#494949"/><stop offset="0.4375" stop-color="#393939"/><stop offset="0.5000" stop-color="#333333"/><stop offset="0.5625" stop-color="#393939"/><stop offset="0.6250" stop-color="#494949"/><stop offset="0.6875" stop-color="#626262"/><stop offset="0.7500" stop-color="#808080"/><stop offset="0.8125" stop-color="#9d9d9d"/><stop offset="0.8750" stop-color="#b6b6b6"/><stop offset="0.9375" stop-color="#c6c6c6"/><stop offset="1.0000" stop-color="#cccccc"/></linearGradient><linearGradient id="gh" gradientUnits="userSpaceOnUse" x1="1051.27" y1="0" x2="1141.27" y2="0" spreadMethod="repeat" gradientTransform="translate(0 711.95) skewX(0.74) translate(0 -711.95)"><stop offset="0.0000" stop-color="#cccccc"/><stop offset="0.0625" stop-color="#c6c6c6"/><stop offset="0.1250" stop-color="#b6b6b6"/><stop offset="0.1875" stop-color="#9d9d9d"/><stop offset="0.2500" stop-color="#808080"/><stop offset="0.3125" stop-color="#626262"/><stop offset="0.3750" stop-color="#494949"/><stop offset="0.4375" stop-color="#393939"/><stop offset="0.5000" stop-color="#333333"/><stop offset="0.5625" stop-color="#393939"/><stop offset="0.6250" stop-color="#494949"/><stop offset="0.6875" stop-color="#626262"/><stop offset="0.7500" stop-color="#808080"/><stop offset="0.8125" stop-color="#9d9d9d"/><stop offset="0.8750" stop-color="#b6b6b6"/><stop offset="0.9375" stop-color="#c6c6c6"/><stop offset="1.0000" stop-color="#cccccc"/></linearGradient></defs>
<rect x="114.3" y="36.6" width="116.17" height="25.4" fill="#000000"/>
<rect x="230.17" y="36.6" width="116.17" height="25.4" fill="#aa2b00"/>
<rect x="346.05" y="36.6" width="116.17" height="25.4" fill="#ffd455"/>
<rect x="461.92" y="36.6" width="116.17" height="25.4" fill="#ffffff"/>
<rect x="114.3" y="36.6" width="463.5" height="25.4" fill="none" stroke="#000" stroke-width="1.7"/>
<line x1="172.24" y1="62.8" x2="172.24" y2="75.7" stroke="#000" stroke-width="2.7" />
<text x="172.24" y="107.8" text-anchor="middle" font-size="26" >0</text>
<line x1="288.11" y1="62.8" x2="288.11" y2="75.7" stroke="#000" stroke-width="2.7" />
<text x="288.11" y="107.8" text-anchor="middle" font-size="26" >1</text>
<line x1="403.99" y1="62.8" x2="403.99" y2="75.7" stroke="#000" stroke-width="2.7" />
<text x="403.99" y="107.8" text-anchor="middle" font-size="26" >2</text>
<line x1="519.86" y1="62.8" x2="519.86" y2="75.7" stroke="#000" stroke-width="2.7" />
<text x="519.86" y="107.8" text-anchor="middle" font-size="26" >3</text>
<text x="346.05" y="20" text-anchor="middle" font-size="26" >Coincidences</text>
<rect x="739.4" y="36.7" width="464.2" height="26" fill="url(#rdbu)"/>
<rect x="739.4" y="36.7" width="464.2" height="25.9" fill="none" stroke="#000" stroke-width="1.8"/>
<line x1="739.4" y1="62.8" x2="739.4" y2="75.7" stroke="#000" stroke-width="2.7" />
<text x="739.4" y="107.8" text-anchor="middle" font-size="26" ><tspan font-family="'DejaVu Sans Light', 'DejaVu Sans', sans-serif" font-weight="200" font-size="27.56" dy="1">−</tspan><tspan dy="-1" font-size="1"> </tspan><tspan font-size="26">1.0</tspan></text>
<line x1="855.45" y1="62.8" x2="855.45" y2="75.7" stroke="#000" stroke-width="2.7" />
<text x="855.45" y="107.8" text-anchor="middle" font-size="26" ><tspan font-family="'DejaVu Sans Light', 'DejaVu Sans', sans-serif" font-weight="200" font-size="27.56" dy="1">−</tspan><tspan dy="-1" font-size="1"> </tspan><tspan font-size="26">0.5</tspan></text>
<line x1="971.5" y1="62.8" x2="971.5" y2="75.7" stroke="#000" stroke-width="2.7" />
<text x="971.5" y="107.8" text-anchor="middle" font-size="26" >0.0</text>
<line x1="1087.55" y1="62.8" x2="1087.55" y2="75.7" stroke="#000" stroke-width="2.7" />
<text x="1087.55" y="107.8" text-anchor="middle" font-size="26" >0.5</text>
<line x1="1203.6" y1="62.8" x2="1203.6" y2="75.7" stroke="#000" stroke-width="2.7" />
<text x="1203.6" y="107.8" text-anchor="middle" font-size="26" >1.0</text>
<text x="972.3" y="20" text-anchor="middle" font-size="26" ><tspan font-style="italic">E</tspan> Value</text>
<rect x="1397.2" y="36.7" width="464.5" height="26" fill="url(#rdbu)"/>
<rect x="1397.2" y="36.7" width="464.5" height="26" fill="none" stroke="#000" stroke-width="1.9"/>
<line x1="1459.8" y1="62.8" x2="1459.8" y2="75.7" stroke="#000" stroke-width="2.7" />
<text x="1459.8" y="107.8" text-anchor="middle" font-size="26" ><tspan font-family="'DejaVu Sans Light', 'DejaVu Sans', sans-serif" font-weight="200" font-size="27.56" dy="1">−</tspan><tspan dy="-1" font-size="1"> </tspan><tspan font-size="26">2</tspan></text>
<line x1="1624.3" y1="62.8" x2="1624.3" y2="75.7" stroke="#000" stroke-width="2.7" />
<text x="1624.3" y="107.8" text-anchor="middle" font-size="26" >0</text>
<line x1="1788.8" y1="62.8" x2="1788.8" y2="75.7" stroke="#000" stroke-width="2.7" />
<text x="1788.8" y="107.8" text-anchor="middle" font-size="26" >2</text>
<text x="1628.45" y="20" text-anchor="middle" font-size="26" ><tspan font-family="'DejaVu Math TeX Gyre', 'DejaVu Serif', serif" font-size="27" font-style="italic">𝒮</tspan><tspan dx="2.5"> Value</tspan></text>
<g filter="url(#fca)">
<rect x="114.4" y="191.2" width="200.2" height="232.5" fill="url(#ga)"/>
<rect x="114.4" y="191.2" width="200.2" height="232.5" fill="url(#rpa)"/><rect x="114.4" y="191.2" width="8" height="232.5" fill="url(#eLa)"/><rect x="311.6" y="191.2" width="3" height="232.5" fill="url(#eRa)"/><rect x="114.4" y="191.2" width="200.2" height="2" fill="url(#eTa)"/><rect x="114.4" y="422.2" width="200.2" height="1.5" fill="url(#eBa)"/>
</g>
<g filter="url(#fcb)">
<rect x="378.1" y="191.2" width="200.3" height="232.5" fill="url(#gb)"/>
<rect x="378.1" y="191.2" width="200.3" height="232.5" fill="url(#rpb)"/><rect x="378.1" y="191.2" width="2" height="232.5" fill="url(#eLb)"/><rect x="573.4" y="191.2" width="5" height="232.5" fill="url(#eRb)"/><rect x="378.1" y="191.2" width="200.3" height="2" fill="url(#eTb)"/><rect x="378.1" y="421.7" width="200.3" height="2" fill="url(#eBb)"/>
</g>
<g filter="url(#fcc)">
<rect x="114.4" y="595" width="200.2" height="232.5" fill="url(#gc)"/>
<rect x="114.4" y="595" width="200.2" height="232.5" fill="url(#rpc)"/><rect x="114.4" y="595" width="2" height="232.5" fill="url(#eLc)"/><rect x="312.6" y="595" width="2" height="232.5" fill="url(#eRc)"/><rect x="114.4" y="595" width="200.2" height="2" fill="url(#eTc)"/><rect x="114.4" y="826" width="200.2" height="1.5" fill="url(#eBc)"/>
</g>
<g filter="url(#fcd)">
<rect x="378.1" y="595" width="200.3" height="232.5" fill="url(#gd)"/>
<rect x="378.1" y="595" width="200.3" height="232.5" fill="url(#rpd)"/><rect x="378.1" y="595" width="4" height="232.5" fill="url(#eLd)"/><rect x="574.4" y="595" width="4" height="232.5" fill="url(#eRd)"/><rect x="378.1" y="595" width="200.3" height="2" fill="url(#eTd)"/><rect x="378.1" y="826" width="200.3" height="1.5" fill="url(#eBd)"/>
</g>
<g filter="url(#fce)">
<rect x="742.5" y="194.3" width="194.6" height="230.2" fill="url(#ge)"/>
<rect x="742.5" y="194.3" width="194.6" height="14" fill="url(#gtop)"/>
<rect x="742.5" y="194.3" width="7" height="230.2" fill="url(#glft)"/>
<rect x="930.1" y="194.3" width="7" height="230.2" fill="url(#grgt)"/>
</g>
<rect x="742.5" y="194.3" width="194.6" height="10" fill="url(#wtop)"/>
<g filter="url(#fcf)">
<rect x="1006.2" y="194.3" width="194.7" height="230.2" fill="url(#gf)"/>
<rect x="1006.2" y="194.3" width="194.7" height="14" fill="url(#gtop)"/>
<rect x="1006.2" y="194.3" width="7" height="230.2" fill="url(#glft)"/>
<rect x="1193.9" y="194.3" width="7" height="230.2" fill="url(#grgt)"/>
</g>
<rect x="1006.2" y="194.3" width="194.7" height="10" fill="url(#wtop)"/>
<g filter="url(#fcg)">
<rect x="742.5" y="597.4" width="194.6" height="230.4" fill="url(#gg)"/>
<rect x="742.5" y="597.4" width="194.6" height="14" fill="url(#gtop)"/>
<rect x="742.5" y="597.4" width="7" height="230.4" fill="url(#glft)"/>
<rect x="930.1" y="597.4" width="7" height="230.4" fill="url(#grgt)"/>
</g>
<rect x="742.5" y="597.4" width="194.6" height="10" fill="url(#wtop)"/>
<g filter="url(#fch)">
<rect x="1006.2" y="597.4" width="194.7" height="230.4" fill="url(#gh)"/>
<rect x="1006.2" y="597.4" width="194.7" height="14" fill="url(#gtop)"/>
<rect x="1006.2" y="597.4" width="7" height="230.4" fill="url(#glft)"/>
<rect x="1193.9" y="597.4" width="7" height="230.4" fill="url(#grgt)"/>
</g>
<rect x="1006.2" y="597.4" width="194.7" height="10" fill="url(#wtop)"/>
<rect x="114.4" y="191.2" width="200.2" height="232.5" fill="none" stroke="#000" stroke-width="1.95"/>
<line x1="101.6" y1="191.2" x2="114.4" y2="191.2" stroke="#000" stroke-width="3.2" />
<text x="87.3" y="200.6" text-anchor="end" font-size="26" >856</text>
<line x1="101.6" y1="269.41" x2="114.4" y2="269.41" stroke="#000" stroke-width="3.2" />
<text x="87.3" y="278.81" text-anchor="end" font-size="26" >600</text>
<line x1="101.6" y1="330.52" x2="114.4" y2="330.52" stroke="#000" stroke-width="3.2" />
<text x="87.3" y="339.92" text-anchor="end" font-size="26" >400</text>
<line x1="101.6" y1="391.62" x2="114.4" y2="391.62" stroke="#000" stroke-width="3.2" />
<text x="87.3" y="401.02" text-anchor="end" font-size="26" >200</text>
<line x1="101.6" y1="423.7" x2="114.4" y2="423.7" stroke="#000" stroke-width="3.2" />
<text x="87.3" y="433.1" text-anchor="end" font-size="26" >95</text>
<line x1="114.4" y1="423.7" x2="114.4" y2="436.5" stroke="#000" stroke-width="2.7" />
<line x1="214.5" y1="423.7" x2="214.5" y2="436.5" stroke="#000" stroke-width="2.7" />
<line x1="314.6" y1="423.7" x2="314.6" y2="436.5" stroke="#000" stroke-width="2.7" />
<text x="113.5" y="168.3" text-anchor="start" font-size="29.5" font-weight="bold" style="stroke-width:0.15px">a</text>
<text transform="translate(19.8 307.45) rotate(-90)" text-anchor="middle" font-size="26"><tspan font-style="italic">x</tspan><tspan font-style="italic" font-size="18.2" dy="3.9">s</tspan><tspan dy="-3.9" dx="2.6"> (rad</tspan><tspan font-family="'DejaVu Sans Light', 'DejaVu Sans', sans-serif" font-weight="200" font-size="31" dx="1.8" dy="2.2">/</tspan><tspan dy="-2.2" dx="3.2">mm)</tspan></text>
<rect x="378.1" y="191.2" width="200.3" height="232.5" fill="none" stroke="#000" stroke-width="1.95"/>
<line x1="365.3" y1="191.2" x2="378.1" y2="191.2" stroke="#000" stroke-width="3.2" />
<line x1="365.3" y1="269.41" x2="378.1" y2="269.41" stroke="#000" stroke-width="3.2" />
<line x1="365.3" y1="330.52" x2="378.1" y2="330.52" stroke="#000" stroke-width="3.2" />
<line x1="365.3" y1="391.62" x2="378.1" y2="391.62" stroke="#000" stroke-width="3.2" />
<line x1="365.3" y1="423.7" x2="378.1" y2="423.7" stroke="#000" stroke-width="3.2" />
<line x1="378.1" y1="423.7" x2="378.1" y2="436.5" stroke="#000" stroke-width="2.7" />
<line x1="478.25" y1="423.7" x2="478.25" y2="436.5" stroke="#000" stroke-width="2.7" />
<line x1="578.4" y1="423.7" x2="578.4" y2="436.5" stroke="#000" stroke-width="2.7" />
<text x="377.2" y="168.3" text-anchor="start" font-size="29.5" font-weight="bold" style="stroke-width:0.15px">b</text>
<rect x="114.4" y="595" width="200.2" height="232.5" fill="none" stroke="#000" stroke-width="1.95"/>
<line x1="101.6" y1="595" x2="114.4" y2="595" stroke="#000" stroke-width="3.2" />
<text x="87.3" y="604.4" text-anchor="end" font-size="26" >856</text>
<line x1="101.6" y1="673.21" x2="114.4" y2="673.21" stroke="#000" stroke-width="3.2" />
<text x="87.3" y="682.61" text-anchor="end" font-size="26" >600</text>
<line x1="101.6" y1="734.32" x2="114.4" y2="734.32" stroke="#000" stroke-width="3.2" />
<text x="87.3" y="743.72" text-anchor="end" font-size="26" >400</text>
<line x1="101.6" y1="795.42" x2="114.4" y2="795.42" stroke="#000" stroke-width="3.2" />
<text x="87.3" y="804.82" text-anchor="end" font-size="26" >200</text>
<line x1="101.6" y1="827.5" x2="114.4" y2="827.5" stroke="#000" stroke-width="3.2" />
<text x="87.3" y="836.9" text-anchor="end" font-size="26" >95</text>
<line x1="114.4" y1="827.5" x2="114.4" y2="840.3" stroke="#000" stroke-width="2.7" />
<text x="114.4" y="872.9" text-anchor="middle" font-size="26" >0</text>
<line x1="214.5" y1="827.5" x2="214.5" y2="840.3" stroke="#000" stroke-width="2.7" />
<text x="214.5" y="872.9" text-anchor="middle" font-size="26" >309</text>
<line x1="314.6" y1="827.5" x2="314.6" y2="840.3" stroke="#000" stroke-width="2.7" />
<text x="314.6" y="872.9" text-anchor="middle" font-size="26" >618</text>
<text x="113.5" y="572.1" text-anchor="start" font-size="29.5" font-weight="bold" style="stroke-width:0.15px">c</text>
<text transform="translate(19.8 711.25) rotate(-90)" text-anchor="middle" font-size="26"><tspan font-style="italic">x</tspan><tspan font-style="italic" font-size="18.2" dy="3.9">s</tspan><tspan dy="-3.9" dx="2.6"> (rad</tspan><tspan font-family="'DejaVu Sans Light', 'DejaVu Sans', sans-serif" font-weight="200" font-size="31" dx="1.8" dy="2.2">/</tspan><tspan dy="-2.2" dx="3.2">mm)</tspan></text>
<text x="215.9" y="910" text-anchor="middle" font-size="26" ><tspan font-style="italic">y</tspan><tspan font-style="italic" font-size="18.2" dy="3.9">s</tspan><tspan dy="-3.9" dx="2.6"> (rad</tspan><tspan font-family="'DejaVu Sans Light', 'DejaVu Sans', sans-serif" font-weight="200" font-size="31" dx="1.8" dy="2.2">/</tspan><tspan dy="-2.2" dx="3.2">mm)</tspan></text>
<rect x="378.1" y="595" width="200.3" height="232.5" fill="none" stroke="#000" stroke-width="1.95"/>
<line x1="365.3" y1="595" x2="378.1" y2="595" stroke="#000" stroke-width="3.2" />
<line x1="365.3" y1="673.21" x2="378.1" y2="673.21" stroke="#000" stroke-width="3.2" />
<line x1="365.3" y1="734.32" x2="378.1" y2="734.32" stroke="#000" stroke-width="3.2" />
<line x1="365.3" y1="795.42" x2="378.1" y2="795.42" stroke="#000" stroke-width="3.2" />
<line x1="365.3" y1="827.5" x2="378.1" y2="827.5" stroke="#000" stroke-width="3.2" />
<line x1="378.1" y1="827.5" x2="378.1" y2="840.3" stroke="#000" stroke-width="2.7" />
<text x="378.1" y="872.9" text-anchor="middle" font-size="26" >0</text>
<line x1="478.25" y1="827.5" x2="478.25" y2="840.3" stroke="#000" stroke-width="2.7" />
<text x="478.25" y="872.9" text-anchor="middle" font-size="26" >309</text>
<line x1="578.4" y1="827.5" x2="578.4" y2="840.3" stroke="#000" stroke-width="2.7" />
<text x="578.4" y="872.9" text-anchor="middle" font-size="26" >618</text>
<text x="377.2" y="572.1" text-anchor="start" font-size="29.5" font-weight="bold" style="stroke-width:0.15px">d</text>
<text x="479.65" y="910" text-anchor="middle" font-size="26" ><tspan font-style="italic">y</tspan><tspan font-style="italic" font-size="18.2" dy="3.9">s</tspan><tspan dy="-3.9" dx="2.6"> (rad</tspan><tspan font-family="'DejaVu Sans Light', 'DejaVu Sans', sans-serif" font-weight="200" font-size="31" dx="1.8" dy="2.2">/</tspan><tspan dy="-2.2" dx="3.2">mm)</tspan></text>
<rect x="739.5" y="192.5" width="200.2" height="232.5" fill="none" stroke="#000" stroke-width="1.95"/>
<line x1="726.7" y1="192.5" x2="739.5" y2="192.5" stroke="#000" stroke-width="3.2" />
<text x="712.4" y="201.9" text-anchor="end" font-size="26" >856</text>
<line x1="726.7" y1="270.71" x2="739.5" y2="270.71" stroke="#000" stroke-width="3.2" />
<text x="712.4" y="280.11" text-anchor="end" font-size="26" >600</text>
<line x1="726.7" y1="331.82" x2="739.5" y2="331.82" stroke="#000" stroke-width="3.2" />
<text x="712.4" y="341.22" text-anchor="end" font-size="26" >400</text>
<line x1="726.7" y1="392.92" x2="739.5" y2="392.92" stroke="#000" stroke-width="3.2" />
<text x="712.4" y="402.32" text-anchor="end" font-size="26" >200</text>
<line x1="726.7" y1="425" x2="739.5" y2="425" stroke="#000" stroke-width="3.2" />
<text x="712.4" y="434.4" text-anchor="end" font-size="26" >95</text>
<line x1="739.5" y1="425" x2="739.5" y2="437.8" stroke="#000" stroke-width="2.7" />
<line x1="839.6" y1="425" x2="839.6" y2="437.8" stroke="#000" stroke-width="2.7" />
<line x1="939.7" y1="425" x2="939.7" y2="437.8" stroke="#000" stroke-width="2.7" />
<text x="738.6" y="169.6" text-anchor="start" font-size="29.5" font-weight="bold" style="stroke-width:0.15px">e</text>
<text transform="translate(644.9 308.75) rotate(-90)" text-anchor="middle" font-size="26"><tspan font-style="italic">x</tspan><tspan font-style="italic" font-size="18.2" dy="3.9">s</tspan><tspan dy="-3.9" dx="2.6"> (rad</tspan><tspan font-family="'DejaVu Sans Light', 'DejaVu Sans', sans-serif" font-weight="200" font-size="31" dx="1.8" dy="2.2">/</tspan><tspan dy="-2.2" dx="3.2">mm)</tspan></text>
<rect x="1003.2" y="192.5" width="200.3" height="232.5" fill="none" stroke="#000" stroke-width="1.95"/>
<line x1="990.4" y1="192.5" x2="1003.2" y2="192.5" stroke="#000" stroke-width="3.2" />
<line x1="990.4" y1="270.71" x2="1003.2" y2="270.71" stroke="#000" stroke-width="3.2" />
<line x1="990.4" y1="331.82" x2="1003.2" y2="331.82" stroke="#000" stroke-width="3.2" />
<line x1="990.4" y1="392.92" x2="1003.2" y2="392.92" stroke="#000" stroke-width="3.2" />
<line x1="990.4" y1="425" x2="1003.2" y2="425" stroke="#000" stroke-width="3.2" />
<line x1="1003.2" y1="425" x2="1003.2" y2="437.8" stroke="#000" stroke-width="2.7" />
<line x1="1103.35" y1="425" x2="1103.35" y2="437.8" stroke="#000" stroke-width="2.7" />
<line x1="1203.5" y1="425" x2="1203.5" y2="437.8" stroke="#000" stroke-width="2.7" />
<text x="1002.3" y="169.6" text-anchor="start" font-size="29.5" font-weight="bold" style="stroke-width:0.15px">f</text>
<rect x="739.5" y="595.6" width="200.2" height="232.7" fill="none" stroke="#000" stroke-width="1.95"/>
<line x1="726.7" y1="595.6" x2="739.5" y2="595.6" stroke="#000" stroke-width="3.2" />
<text x="712.4" y="605" text-anchor="end" font-size="26" >856</text>
<line x1="726.7" y1="673.88" x2="739.5" y2="673.88" stroke="#000" stroke-width="3.2" />
<text x="712.4" y="683.28" text-anchor="end" font-size="26" >600</text>
<line x1="726.7" y1="735.04" x2="739.5" y2="735.04" stroke="#000" stroke-width="3.2" />
<text x="712.4" y="744.44" text-anchor="end" font-size="26" >400</text>
<line x1="726.7" y1="796.19" x2="739.5" y2="796.19" stroke="#000" stroke-width="3.2" />
<text x="712.4" y="805.59" text-anchor="end" font-size="26" >200</text>
<line x1="726.7" y1="828.3" x2="739.5" y2="828.3" stroke="#000" stroke-width="3.2" />
<text x="712.4" y="837.7" text-anchor="end" font-size="26" >95</text>
<line x1="739.5" y1="828.3" x2="739.5" y2="841.1" stroke="#000" stroke-width="2.7" />
<text x="739.5" y="873.7" text-anchor="middle" font-size="26" >0</text>
<line x1="839.6" y1="828.3" x2="839.6" y2="841.1" stroke="#000" stroke-width="2.7" />
<text x="839.6" y="873.7" text-anchor="middle" font-size="26" >309</text>
<line x1="939.7" y1="828.3" x2="939.7" y2="841.1" stroke="#000" stroke-width="2.7" />
<text x="939.7" y="873.7" text-anchor="middle" font-size="26" >618</text>
<text x="738.6" y="572.7" text-anchor="start" font-size="29.5" font-weight="bold" style="stroke-width:0.15px">g</text>
<text transform="translate(644.9 711.95) rotate(-90)" text-anchor="middle" font-size="26"><tspan font-style="italic">x</tspan><tspan font-style="italic" font-size="18.2" dy="3.9">s</tspan><tspan dy="-3.9" dx="2.6"> (rad</tspan><tspan font-family="'DejaVu Sans Light', 'DejaVu Sans', sans-serif" font-weight="200" font-size="31" dx="1.8" dy="2.2">/</tspan><tspan dy="-2.2" dx="3.2">mm)</tspan></text>
<text x="841" y="910.8" text-anchor="middle" font-size="26" ><tspan font-style="italic">y</tspan><tspan font-style="italic" font-size="18.2" dy="3.9">s</tspan><tspan dy="-3.9" dx="2.6"> (rad</tspan><tspan font-family="'DejaVu Sans Light', 'DejaVu Sans', sans-serif" font-weight="200" font-size="31" dx="1.8" dy="2.2">/</tspan><tspan dy="-2.2" dx="3.2">mm)</tspan></text>
<rect x="1003.2" y="595.6" width="200.3" height="232.7" fill="none" stroke="#000" stroke-width="1.95"/>
<line x1="990.4" y1="595.6" x2="1003.2" y2="595.6" stroke="#000" stroke-width="3.2" />
<line x1="990.4" y1="673.88" x2="1003.2" y2="673.88" stroke="#000" stroke-width="3.2" />
<line x1="990.4" y1="735.04" x2="1003.2" y2="735.04" stroke="#000" stroke-width="3.2" />
<line x1="990.4" y1="796.19" x2="1003.2" y2="796.19" stroke="#000" stroke-width="3.2" />
<line x1="990.4" y1="828.3" x2="1003.2" y2="828.3" stroke="#000" stroke-width="3.2" />
<line x1="1003.2" y1="828.3" x2="1003.2" y2="841.1" stroke="#000" stroke-width="2.7" />
<text x="1003.2" y="873.7" text-anchor="middle" font-size="26" >0</text>
<line x1="1103.35" y1="828.3" x2="1103.35" y2="841.1" stroke="#000" stroke-width="2.7" />
<text x="1103.35" y="873.7" text-anchor="middle" font-size="26" >309</text>
<line x1="1203.5" y1="828.3" x2="1203.5" y2="841.1" stroke="#000" stroke-width="2.7" />
<text x="1203.5" y="873.7" text-anchor="middle" font-size="26" >618</text>
<text x="1002.3" y="572.7" text-anchor="start" font-size="29.5" font-weight="bold" style="stroke-width:0.15px">h</text>
<text x="1104.75" y="910.8" text-anchor="middle" font-size="26" ><tspan font-style="italic">y</tspan><tspan font-style="italic" font-size="18.2" dy="3.9">s</tspan><tspan dy="-3.9" dx="2.6"> (rad</tspan><tspan font-family="'DejaVu Sans Light', 'DejaVu Sans', sans-serif" font-weight="200" font-size="31" dx="1.8" dy="2.2">/</tspan><tspan dy="-2.2" dx="3.2">mm)</tspan></text>
<text x="203.8" y="168.53" text-anchor="middle" font-family="'DejaVu Sans Light', 'DejaVu Sans', sans-serif" font-weight="200" font-size="24.3" style="stroke-width:0.5px">+</text>
<text x="222.6" y="168.53" text-anchor="middle" font-family="'DejaVu Sans Light', 'DejaVu Sans', sans-serif" font-weight="200" font-size="24.3" style="stroke-width:0.5px">+</text>
<text x="463.5" y="171.93" text-anchor="middle" font-family="'DejaVu Sans Light', 'DejaVu Sans', sans-serif" font-weight="200" font-size="24.3" style="stroke-width:0.5px">+</text>
<text x="486" y="172.96" text-anchor="middle" font-family="'DejaVu Sans Light', 'DejaVu Sans', sans-serif" font-weight="200" font-size="31.4" style="stroke-width:0.5px">−</text>
<text x="202.6" y="577.36" text-anchor="middle" font-family="'DejaVu Sans Light', 'DejaVu Sans', sans-serif" font-weight="200" font-size="31.4" style="stroke-width:0.5px">−</text>
<text x="225" y="575.93" text-anchor="middle" font-family="'DejaVu Sans Light', 'DejaVu Sans', sans-serif" font-weight="200" font-size="24.3" style="stroke-width:0.5px">+</text>
<text x="462.2" y="584.36" text-anchor="middle" font-family="'DejaVu Sans Light', 'DejaVu Sans', sans-serif" font-weight="200" font-size="31.4" style="stroke-width:0.5px">−</text>
<text x="488.8" y="584.36" text-anchor="middle" font-family="'DejaVu Sans Light', 'DejaVu Sans', sans-serif" font-weight="200" font-size="31.4" style="stroke-width:0.5px">−</text>
<text x="796" y="165.7" font-family="'DejaVu Sans Light', 'DejaVu Sans', sans-serif" font-weight="200" font-size="33.9" style="stroke-width:0.25px">{</text>
<text x="815.3" y="166.4" font-family="'Liberation Serif', 'DejaVu Serif', serif" font-style="italic" font-size="30" style="stroke-width:0.25px">ξ</text><text x="832.2" y="169.4" font-style="italic" font-size="21.84">w</text><text x="831.8" y="149.4" font-size="21.84">(1)</text>
<text x="860.7" y="164.8" font-size="31.2">,</text>
<text x="873.3" y="166.4" font-family="'Liberation Serif', 'DejaVu Serif', serif" font-style="italic" font-size="30" style="stroke-width:0.25px">ξ</text><text x="890.2" y="169.4" font-style="italic" font-size="21.84">r</text><text x="889.8" y="149.4" font-size="21.84">(1)</text>
<text x="918.3" y="165.7" font-family="'DejaVu Sans Light', 'DejaVu Sans', sans-serif" font-weight="200" font-size="33.9" style="stroke-width:0.25px">}</text>
<text x="1059.7" y="165.7" font-family="'DejaVu Sans Light', 'DejaVu Sans', sans-serif" font-weight="200" font-size="33.9" style="stroke-width:0.25px">{</text>
<text x="1079" y="166.4" font-family="'Liberation Serif', 'DejaVu Serif', serif" font-style="italic" font-size="30" style="stroke-width:0.25px">ξ</text><text x="1095.9" y="169.4" font-style="italic" font-size="21.84">w</text><text x="1095.5" y="149.4" font-size="21.84">(1)</text>
<text x="1124.4" y="164.8" font-size="31.2">,</text>
<text x="1137" y="166.4" font-family="'Liberation Serif', 'DejaVu Serif', serif" font-style="italic" font-size="30" style="stroke-width:0.25px">ξ</text><text x="1153.9" y="169.4" font-style="italic" font-size="21.84">r</text><text x="1153.5" y="149.4" font-size="21.84">(2)</text>
<text x="1182" y="165.7" font-family="'DejaVu Sans Light', 'DejaVu Sans', sans-serif" font-weight="200" font-size="33.9" style="stroke-width:0.25px">}</text>
<text x="796" y="568.8" font-family="'DejaVu Sans Light', 'DejaVu Sans', sans-serif" font-weight="200" font-size="33.9" style="stroke-width:0.25px">{</text>
<text x="815.3" y="569.5" font-family="'Liberation Serif', 'DejaVu Serif', serif" font-style="italic" font-size="30" style="stroke-width:0.25px">ξ</text><text x="832.2" y="572.5" font-style="italic" font-size="21.84">w</text><text x="831.8" y="552.5" font-size="21.84">(2)</text>
<text x="860.7" y="567.9" font-size="31.2">,</text>
<text x="873.3" y="569.5" font-family="'Liberation Serif', 'DejaVu Serif', serif" font-style="italic" font-size="30" style="stroke-width:0.25px">ξ</text><text x="890.2" y="572.5" font-style="italic" font-size="21.84">r</text><text x="889.8" y="552.5" font-size="21.84">(1)</text>
<text x="918.3" y="568.8" font-family="'DejaVu Sans Light', 'DejaVu Sans', sans-serif" font-weight="200" font-size="33.9" style="stroke-width:0.25px">}</text>
<text x="1059.7" y="568.8" font-family="'DejaVu Sans Light', 'DejaVu Sans', sans-serif" font-weight="200" font-size="33.9" style="stroke-width:0.25px">{</text>
<text x="1079" y="569.5" font-family="'Liberation Serif', 'DejaVu Serif', serif" font-style="italic" font-size="30" style="stroke-width:0.25px">ξ</text><text x="1095.9" y="572.5" font-style="italic" font-size="21.84">w</text><text x="1095.5" y="552.5" font-size="21.84">(2)</text>
<text x="1124.4" y="567.9" font-size="31.2">,</text>
<text x="1137" y="569.5" font-family="'Liberation Serif', 'DejaVu Serif', serif" font-style="italic" font-size="30" style="stroke-width:0.25px">ξ</text><text x="1153.9" y="572.5" font-style="italic" font-size="21.84">r</text><text x="1153.5" y="552.5" font-size="21.84">(2)</text>
<text x="1182" y="568.8" font-family="'DejaVu Sans Light', 'DejaVu Sans', sans-serif" font-weight="200" font-size="33.9" style="stroke-width:0.25px">}</text>
<rect x="1397.3" y="192.5" width="463.4" height="232.8" fill="url(#gi)"/>
<rect x="1397.3" y="192.5" width="463.4" height="232.8" fill="none" stroke="#000" stroke-width="1.95"/>
<line x1="1384.5" y1="192.5" x2="1397.3" y2="192.5" stroke="#000" stroke-width="3.2" />
<text x="1370.2" y="201.9" text-anchor="end" font-size="26" >856</text>
<line x1="1384.5" y1="270.81" x2="1397.3" y2="270.81" stroke="#000" stroke-width="3.2" />
<text x="1370.2" y="280.21" text-anchor="end" font-size="26" >600</text>
<line x1="1384.5" y1="332" x2="1397.3" y2="332" stroke="#000" stroke-width="3.2" />
<text x="1370.2" y="341.4" text-anchor="end" font-size="26" >400</text>
<line x1="1384.5" y1="393.18" x2="1397.3" y2="393.18" stroke="#000" stroke-width="3.2" />
<text x="1370.2" y="402.58" text-anchor="end" font-size="26" >200</text>
<line x1="1384.5" y1="425.3" x2="1397.3" y2="425.3" stroke="#000" stroke-width="3.2" />
<text x="1370.2" y="434.7" text-anchor="end" font-size="26" >95</text>
<line x1="1397.3" y1="425.3" x2="1397.3" y2="438.1" stroke="#000" stroke-width="2.7" />
<text x="1397.3" y="470.7" text-anchor="middle" font-size="26" >0</text>
<line x1="1512.78" y1="425.3" x2="1512.78" y2="438.1" stroke="#000" stroke-width="2.7" />
<text x="1512.78" y="470.7" text-anchor="middle" font-size="26" >154</text>
<line x1="1629" y1="425.3" x2="1629" y2="438.1" stroke="#000" stroke-width="2.7" />
<text x="1629" y="470.7" text-anchor="middle" font-size="26" >309</text>
<line x1="1745.22" y1="425.3" x2="1745.22" y2="438.1" stroke="#000" stroke-width="2.7" />
<text x="1745.22" y="470.7" text-anchor="middle" font-size="26" >464</text>
<line x1="1860.7" y1="425.3" x2="1860.7" y2="438.1" stroke="#000" stroke-width="2.7" />
<text x="1860.7" y="470.7" text-anchor="middle" font-size="26" >618</text>
<text x="1396.7" y="169.1" text-anchor="start" font-size="29.5" font-weight="bold" style="stroke-width:0.15px">i</text>
<text transform="translate(1302.7 308.9) rotate(-90)" text-anchor="middle" font-size="26"><tspan font-style="italic">x</tspan><tspan font-style="italic" font-size="18.2" dy="3.9">s</tspan><tspan dy="-3.9" dx="2.6"> (rad</tspan><tspan font-family="'DejaVu Sans Light', 'DejaVu Sans', sans-serif" font-weight="200" font-size="31" dx="1.8" dy="2.2">/</tspan><tspan dy="-2.2" dx="3.2">mm)</tspan></text>
<text x="1630.4" y="507.8" text-anchor="middle" font-size="26" ><tspan font-style="italic">y</tspan><tspan font-style="italic" font-size="18.2" dy="3.9">s</tspan><tspan dy="-3.9" dx="2.6"> (rad</tspan><tspan font-family="'DejaVu Sans Light', 'DejaVu Sans', sans-serif" font-weight="200" font-size="31" dx="1.8" dy="2.2">/</tspan><tspan dy="-2.2" dx="3.2">mm)</tspan></text>
<text x="1628.5" y="165.3" text-anchor="middle" font-size="31.2" >Bell parameter <tspan font-family="'DejaVu Math TeX Gyre', 'DejaVu Serif', serif" font-size="32" font-style="italic">𝒮</tspan><tspan dx="3">(</tspan><tspan font-style="italic">x</tspan><tspan font-style="italic" font-size="21.84" dy="4.6">s</tspan><tspan dy="-4.6">, </tspan><tspan font-style="italic">y</tspan><tspan font-style="italic" font-size="21.84" dy="4.6">s</tspan><tspan dy="-4.6">)</tspan></text>
<path d="M1417.8 791.6 L1419.4 789.8 L1421.1 788.0 L1422.7 786.1 L1424.3 784.1 L1426.0 781.9 L1427.6 779.5 L1429.2 776.9 L1430.8 773.9 L1432.5 770.6 L1434.1 767.1 L1435.7 763.3 L1437.4 759.3 L1439.0 755.1 L1440.6 750.7 L1442.3 746.1 L1443.9 741.3 L1445.5 736.4 L1447.1 731.4 L1448.8 726.3 L1450.4 721.1 L1452.0 715.8 L1453.7 710.5 L1455.3 705.1 L1456.9 699.7 L1458.6 694.3 L1460.2 689.0 L1461.8 683.7 L1463.4 678.4 L1465.1 673.2 L1466.7 668.0 L1468.3 663.0 L1470.0 658.1 L1471.6 653.3 L1473.2 648.6 L1474.9 644.2 L1476.5 639.8 L1478.1 635.7 L1479.7 631.8 L1481.4 628.1 L1483.0 624.6 L1484.6 621.4 L1486.3 618.4 L1487.9 615.7 L1489.5 613.2 L1491.2 611.0 L1492.8 609.1 L1494.4 607.4 L1496.0 606.0 L1497.7 604.9 L1499.3 604.1 L1500.9 603.5 L1502.6 603.2 L1504.2 603.3 L1505.8 603.6 L1507.5 604.2 L1509.1 605.1 L1510.7 606.3 L1512.3 607.7 L1514.0 609.4 L1515.6 611.3 L1517.2 613.5 L1518.9 615.8 L1520.5 618.4 L1522.1 621.2 L1523.8 624.2 L1525.4 627.4 L1527.0 630.7 L1528.6 634.2 L1530.3 637.9 L1531.9 641.7 L1533.5 645.7 L1535.2 649.8 L1536.8 654.0 L1538.4 658.4 L1540.1 662.9 L1541.7 667.5 L1543.3 672.3 L1544.9 677.1 L1546.6 682.1 L1548.2 687.1 L1549.8 692.2 L1551.5 697.5 L1553.1 702.8 L1554.7 708.1 L1556.4 713.5 L1558.0 718.9 L1559.6 724.3 L1561.3 729.7 L1562.9 735.1 L1564.5 740.3 L1566.1 745.4 L1567.8 750.4 L1569.4 755.3 L1571.0 759.9 L1572.7 764.4 L1574.3 768.6 L1575.9 772.5 L1577.6 776.2 L1579.2 779.5 L1580.8 782.6 L1582.4 785.3 L1584.1 787.7 L1585.7 789.9 L1587.3 791.7 L1589.0 793.3 L1590.6 794.6 L1592.2 795.6 L1593.9 796.3 L1595.5 796.8 L1597.1 797.1 L1598.7 797.1 L1600.4 796.8 L1602.0 796.3 L1603.6 795.5 L1605.3 794.5 L1606.9 793.2 L1608.5 791.7 L1610.2 789.9 L1611.8 787.8 L1613.4 785.4 L1615.0 782.8 L1616.7 779.9 L1618.3 776.7 L1619.9 773.2 L1621.6 769.5 L1623.2 765.5 L1624.8 761.3 L1626.5 756.9 L1628.1 752.3 L1629.7 747.5 L1631.3 742.6 L1633.0 737.5 L1634.6 732.4 L1636.2 727.1 L1637.9 721.8 L1639.5 716.4 L1641.1 711.0 L1642.8 705.6 L1644.4 700.2 L1646.0 694.8 L1647.6 689.4 L1649.3 684.1 L1650.9 678.8 L1652.5 673.7 L1654.2 668.6 L1655.8 663.6 L1657.4 658.7 L1659.1 654.0 L1660.7 649.4 L1662.3 644.9 L1663.9 640.6 L1665.6 636.5 L1667.2 632.6 L1668.8 628.8 L1670.5 625.3 L1672.1 622.0 L1673.7 619.0 L1675.4 616.2 L1677.0 613.6 L1678.6 611.3 L1680.2 609.2 L1681.9 607.4 L1683.5 605.9 L1685.1 604.6 L1686.8 603.6 L1688.4 603.0 L1690.0 602.6 L1691.7 602.5 L1693.3 602.7 L1694.9 603.3 L1696.5 604.1 L1698.2 605.2 L1699.8 606.5 L1701.4 608.1 L1703.1 610.0 L1704.7 612.1 L1706.3 614.4 L1708.0 616.9 L1709.6 619.6 L1711.2 622.5 L1712.9 625.5 L1714.5 628.8 L1716.1 632.1 L1717.7 635.7 L1719.4 639.4 L1721.0 643.2 L1722.6 647.1 L1724.3 651.2 L1725.9 655.4 L1727.5 659.7 L1729.2 664.1 L1730.8 668.7 L1732.4 673.3 L1734.0 678.0 L1735.7 682.9 L1737.3 687.8 L1738.9 692.8 L1740.6 697.9 L1742.2 703.0 L1743.8 708.2 L1745.5 713.5 L1747.1 718.8 L1748.7 724.0 L1750.3 729.3 L1752.0 734.5 L1753.6 739.6 L1755.2 744.6 L1756.9 749.5 L1758.5 754.2 L1760.1 758.8 L1761.8 763.2 L1763.4 767.3 L1765.0 771.2 L1766.6 774.9 L1768.3 778.3 L1769.9 781.3 L1771.5 784.1 L1773.2 786.6 L1774.8 788.8 L1776.4 790.7 L1778.1 792.3 L1779.7 793.6 L1781.3 794.7 L1782.9 795.5 L1784.6 796.0 L1786.2 796.2 L1787.8 796.2 L1789.5 795.9 L1791.1 795.3 L1792.7 794.5 L1794.4 793.4 L1796.0 792.1 L1797.6 790.5 L1799.2 788.6 L1800.9 786.5 L1802.5 784.1 L1804.1 781.5 L1805.8 778.6 L1807.4 775.5 L1809.0 772.2 L1810.7 768.6 L1812.3 764.8 L1813.9 760.8 L1815.5 756.7 L1817.2 752.4 L1818.8 748.0 L1820.4 743.5 L1822.1 738.9 L1823.7 734.3 L1825.3 729.5 L1827.0 724.7 L1828.6 719.7 L1830.2 714.6 L1831.8 709.3 L1833.5 703.9 L1835.1 698.2 L1836.7 692.4 L1838.4 686.5 L1840.0 680.5 L1840.0 698.3 L1838.4 704.3 L1836.7 710.2 L1835.1 716.0 L1833.5 721.7 L1831.8 727.1 L1830.2 732.4 L1828.6 737.5 L1827.0 742.5 L1825.3 747.3 L1823.7 752.1 L1822.1 756.7 L1820.4 761.3 L1818.8 765.8 L1817.2 770.2 L1815.5 774.5 L1813.9 778.6 L1812.3 782.6 L1810.7 786.4 L1809.0 790.0 L1807.4 793.3 L1805.8 796.4 L1804.1 799.3 L1802.5 801.9 L1800.9 804.3 L1799.2 806.4 L1797.6 808.3 L1796.0 809.9 L1794.4 811.2 L1792.7 812.3 L1791.1 813.1 L1789.5 813.7 L1787.8 814.0 L1786.2 814.0 L1784.6 813.8 L1782.9 813.3 L1781.3 812.5 L1779.7 811.4 L1778.1 810.1 L1776.4 808.5 L1774.8 806.6 L1773.2 804.4 L1771.5 801.9 L1769.9 799.1 L1768.3 796.1 L1766.6 792.7 L1765.0 789.0 L1763.4 785.1 L1761.8 781.0 L1760.1 776.6 L1758.5 772.0 L1756.9 767.3 L1755.2 762.4 L1753.6 757.4 L1752.0 752.3 L1750.3 747.1 L1748.7 741.8 L1747.1 736.6 L1745.5 731.3 L1743.8 726.0 L1742.2 720.8 L1740.6 715.7 L1738.9 710.6 L1737.3 705.6 L1735.7 700.7 L1734.0 695.8 L1732.4 691.1 L1730.8 686.5 L1729.2 681.9 L1727.5 677.5 L1725.9 673.2 L1724.3 669.0 L1722.6 664.9 L1721.0 661.0 L1719.4 657.2 L1717.7 653.5 L1716.1 649.9 L1714.5 646.6 L1712.9 643.3 L1711.2 640.3 L1709.6 637.4 L1708.0 634.7 L1706.3 632.2 L1704.7 629.9 L1703.1 627.8 L1701.4 625.9 L1699.8 624.3 L1698.2 623.0 L1696.5 621.9 L1694.9 621.1 L1693.3 620.5 L1691.7 620.3 L1690.0 620.4 L1688.4 620.8 L1686.8 621.4 L1685.1 622.4 L1683.5 623.7 L1681.9 625.2 L1680.2 627.0 L1678.6 629.1 L1677.0 631.4 L1675.4 634.0 L1673.7 636.8 L1672.1 639.8 L1670.5 643.1 L1668.8 646.6 L1667.2 650.4 L1665.6 654.3 L1663.9 658.4 L1662.3 662.7 L1660.7 667.2 L1659.1 671.8 L1657.4 676.5 L1655.8 681.4 L1654.2 686.4 L1652.5 691.5 L1650.9 696.6 L1649.3 701.9 L1647.6 707.2 L1646.0 712.6 L1644.4 718.0 L1642.8 723.4 L1641.1 728.8 L1639.5 734.2 L1637.9 739.6 L1636.2 744.9 L1634.6 750.2 L1633.0 755.3 L1631.3 760.4 L1629.7 765.3 L1628.1 770.1 L1626.5 774.7 L1624.8 779.1 L1623.2 783.3 L1621.6 787.3 L1619.9 791.0 L1618.3 794.5 L1616.7 797.7 L1615.0 800.6 L1613.4 803.2 L1611.8 805.6 L1610.2 807.7 L1608.5 809.5 L1606.9 811.0 L1605.3 812.3 L1603.6 813.3 L1602.0 814.1 L1600.4 814.6 L1598.7 814.9 L1597.1 814.9 L1595.5 814.6 L1593.9 814.1 L1592.2 813.4 L1590.6 812.4 L1589.0 811.1 L1587.3 809.5 L1585.7 807.7 L1584.1 805.5 L1582.4 803.1 L1580.8 800.4 L1579.2 797.3 L1577.6 794.0 L1575.9 790.3 L1574.3 786.4 L1572.7 782.2 L1571.0 777.7 L1569.4 773.1 L1567.8 768.2 L1566.1 763.2 L1564.5 758.1 L1562.9 752.9 L1561.3 747.5 L1559.6 742.1 L1558.0 736.7 L1556.4 731.3 L1554.7 725.9 L1553.1 720.6 L1551.5 715.3 L1549.8 710.0 L1548.2 704.9 L1546.6 699.9 L1544.9 694.9 L1543.3 690.1 L1541.7 685.3 L1540.1 680.7 L1538.4 676.2 L1536.8 671.8 L1535.2 667.6 L1533.5 663.5 L1531.9 659.5 L1530.3 655.7 L1528.6 652.0 L1527.0 648.5 L1525.4 645.2 L1523.8 642.0 L1522.1 639.0 L1520.5 636.2 L1518.9 633.6 L1517.2 631.3 L1515.6 629.1 L1514.0 627.2 L1512.3 625.5 L1510.7 624.1 L1509.1 622.9 L1507.5 622.0 L1505.8 621.4 L1504.2 621.1 L1502.6 621.0 L1500.9 621.3 L1499.3 621.9 L1497.7 622.7 L1496.0 623.8 L1494.4 625.2 L1492.8 626.9 L1491.2 628.8 L1489.5 631.0 L1487.9 633.5 L1486.3 636.2 L1484.6 639.2 L1483.0 642.4 L1481.4 645.9 L1479.7 649.6 L1478.1 653.5 L1476.5 657.6 L1474.9 662.0 L1473.2 666.4 L1471.6 671.1 L1470.0 675.9 L1468.3 680.8 L1466.7 685.8 L1465.1 691.0 L1463.4 696.2 L1461.8 701.5 L1460.2 706.8 L1458.6 712.1 L1456.9 717.5 L1455.3 722.9 L1453.7 728.3 L1452.0 733.6 L1450.4 738.9 L1448.8 744.1 L1447.1 749.2 L1445.5 754.2 L1443.9 759.1 L1442.3 763.9 L1440.6 768.5 L1439.0 772.9 L1437.4 777.1 L1435.7 781.1 L1434.1 784.9 L1432.5 788.4 L1430.8 791.7 L1429.2 794.7 L1427.6 797.3 L1426.0 799.7 L1424.3 801.9 L1422.7 803.9 L1421.1 805.8 L1419.4 807.6 L1417.8 809.4Z" fill="#c3cdce"/>
<path d="M1417.8 795.2 L1419.4 793.6 L1421.1 791.9 L1422.7 790.1 L1424.3 788.1 L1426.0 785.8 L1427.6 783.2 L1429.2 780.3 L1430.8 777.1 L1432.5 773.7 L1434.1 770.0 L1435.7 766.0 L1437.4 761.8 L1439.0 757.5 L1440.6 753.0 L1442.3 748.3 L1443.9 743.5 L1445.5 738.6 L1447.2 733.6 L1448.8 728.6 L1450.4 723.5 L1452.0 718.4 L1453.7 713.3 L1455.3 708.2 L1456.9 703.1 L1458.6 698.1 L1460.2 693.1 L1461.8 688.2 L1463.5 683.4 L1465.1 678.8 L1466.7 674.2 L1468.4 669.8 L1470.0 665.5 L1471.6 661.4 L1473.3 657.4 L1474.9 653.7 L1476.5 650.1 L1478.1 646.8 L1479.8 643.7 L1481.4 640.8 L1483.0 638.2 L1484.7 635.9 L1486.3 633.8 L1487.9 632.0 L1489.6 630.5 L1491.2 629.2 L1492.8 628.1 L1494.5 627.2 L1496.1 626.5 L1497.7 626.0 L1499.3 625.7 L1501.0 625.5 L1502.6 625.4 L1504.2 625.4 L1505.9 625.6 L1507.5 625.8 L1509.1 626.2 L1510.8 626.7 L1512.4 627.4 L1514.0 628.3 L1515.7 629.3 L1517.3 630.6 L1518.9 632.0 L1520.5 633.7 L1522.2 635.6 L1523.8 637.7 L1525.4 640.1 L1527.1 642.8 L1528.7 645.6 L1530.3 648.7 L1532.0 652.0 L1533.6 655.5 L1535.2 659.1 L1536.9 662.9 L1538.5 666.9 L1540.1 671.0 L1541.7 675.3 L1543.4 679.7 L1545.0 684.2 L1546.6 688.8 L1548.3 693.4 L1549.9 698.2 L1551.5 703.0 L1553.2 707.9 L1554.8 712.8 L1556.4 717.7 L1558.1 722.7 L1559.7 727.7 L1561.3 732.6 L1562.9 737.5 L1564.6 742.4 L1566.2 747.1 L1567.8 751.9 L1569.5 756.5 L1571.1 761.0 L1572.7 765.4 L1574.4 769.6 L1576.0 773.7 L1577.6 777.7 L1579.3 781.4 L1580.9 784.9 L1582.5 788.3 L1584.2 791.4 L1585.8 794.2 L1587.4 796.9 L1589.0 799.2 L1590.7 801.4 L1592.3 803.2 L1593.9 804.8 L1595.6 806.2 L1597.2 807.2 L1598.8 807.9 L1600.5 808.4 L1602.1 808.5 L1603.7 808.4 L1605.4 807.9 L1607.0 807.1 L1608.6 805.9 L1610.2 804.4 L1611.9 802.6 L1613.5 800.4 L1615.1 797.8 L1616.8 794.8 L1618.4 791.5 L1620.0 787.8 L1621.7 783.6 L1623.3 779.1 L1624.9 774.2 L1626.6 769.1 L1628.2 763.6 L1629.8 758.0 L1631.4 752.1 L1633.1 746.1 L1634.7 740.0 L1636.3 733.8 L1638.0 727.6 L1639.6 721.5 L1641.2 715.3 L1642.9 709.3 L1644.5 703.4 L1646.1 697.6 L1647.8 692.0 L1649.4 686.4 L1651.0 681.1 L1652.6 675.8 L1654.3 670.7 L1655.9 665.8 L1657.5 660.9 L1659.2 656.3 L1660.8 651.8 L1662.4 647.4 L1664.1 643.2 L1665.7 639.1 L1667.3 635.3 L1669.0 631.6 L1670.6 628.0 L1672.2 624.7 L1673.8 621.6 L1675.5 618.7 L1677.1 616.0 L1678.7 613.7 L1680.4 611.6 L1682.0 609.8 L1683.6 608.2 L1685.3 607.1 L1686.9 606.2 L1688.5 605.7 L1690.2 605.6 L1691.8 605.8 L1693.4 606.5 L1695.1 607.4 L1696.7 608.7 L1698.3 610.3 L1699.9 612.2 L1701.6 614.4 L1703.2 616.8 L1704.8 619.5 L1706.5 622.4 L1708.1 625.4 L1709.7 628.7 L1711.4 632.1 L1713.0 635.6 L1714.6 639.2 L1716.3 643.0 L1717.9 646.9 L1719.5 650.8 L1721.1 654.9 L1722.8 659.0 L1724.4 663.3 L1726.0 667.6 L1727.7 672.0 L1729.3 676.4 L1730.9 680.9 L1732.6 685.5 L1734.2 690.2 L1735.8 694.9 L1737.5 699.6 L1739.1 704.4 L1740.7 709.3 L1742.3 714.1 L1744.0 719.0 L1745.6 723.9 L1747.2 728.8 L1748.9 733.7 L1750.5 738.6 L1752.1 743.4 L1753.8 748.1 L1755.4 752.8 L1757.0 757.4 L1758.7 761.9 L1760.3 766.2 L1761.9 770.5 L1763.5 774.6 L1765.2 778.5 L1766.8 782.3 L1768.4 785.9 L1770.1 789.3 L1771.7 792.5 L1773.3 795.5 L1775.0 798.2 L1776.6 800.8 L1778.2 803.1 L1779.9 805.1 L1781.5 807.0 L1783.1 808.5 L1784.7 809.9 L1786.4 810.9 L1788.0 811.7 L1789.6 812.2 L1791.3 812.5 L1792.9 812.4 L1794.5 812.0 L1796.2 811.3 L1797.8 810.2 L1799.4 808.8 L1801.1 806.9 L1802.7 804.6 L1804.3 801.9 L1806.0 798.8 L1807.6 795.1 L1809.2 791.0 L1810.8 786.4 L1812.5 781.2 L1814.1 775.6 L1815.7 769.6 L1817.4 763.2 L1819.0 756.6 L1820.6 749.8 L1822.3 743.0 L1823.9 736.0 L1825.5 729.1 L1827.2 722.4 L1828.8 715.8 L1830.4 709.4 L1832.0 703.4 L1833.7 697.6 L1835.3 691.9 L1836.9 686.5 L1838.6 681.1 L1840.2 675.8" fill="none" stroke="#dc143c" stroke-width="3.5" stroke-linejoin="round"/>
<line x1="1397.6" y1="636.5" x2="1861" y2="636.5" stroke="#b3211c" stroke-width="3"/>
<line x1="1397.6" y1="785.6" x2="1861" y2="785.6" stroke="#b3211c" stroke-width="3"/>
<line x1="1398.6" y1="605.6" x2="1861" y2="605.6" stroke="#6e6e6e" stroke-width="2.9" stroke-dasharray="10.9 4.93"/>
<line x1="1398.6" y1="816.4" x2="1861" y2="816.4" stroke="#6e6e6e" stroke-width="2.9" stroke-dasharray="10.9 4.93"/>
<path d="M1417.8 800.5 L1419.4 798.7 L1421.1 796.9 L1422.7 795.0 L1424.3 793.0 L1426.0 790.8 L1427.6 788.4 L1429.2 785.8 L1430.8 782.8 L1432.5 779.5 L1434.1 776.0 L1435.7 772.2 L1437.4 768.2 L1439.0 764.0 L1440.6 759.6 L1442.3 755.0 L1443.9 750.2 L1445.5 745.3 L1447.1 740.3 L1448.8 735.2 L1450.4 730.0 L1452.0 724.7 L1453.7 719.4 L1455.3 714.0 L1456.9 708.6 L1458.6 703.2 L1460.2 697.9 L1461.8 692.6 L1463.4 687.3 L1465.1 682.1 L1466.7 676.9 L1468.3 671.9 L1470.0 667.0 L1471.6 662.2 L1473.2 657.5 L1474.9 653.1 L1476.5 648.7 L1478.1 644.6 L1479.7 640.7 L1481.4 637.0 L1483.0 633.5 L1484.6 630.3 L1486.3 627.3 L1487.9 624.6 L1489.5 622.1 L1491.2 619.9 L1492.8 618.0 L1494.4 616.3 L1496.0 614.9 L1497.7 613.8 L1499.3 613.0 L1500.9 612.4 L1502.6 612.1 L1504.2 612.2 L1505.8 612.5 L1507.5 613.1 L1509.1 614.0 L1510.7 615.2 L1512.3 616.6 L1514.0 618.3 L1515.6 620.2 L1517.2 622.4 L1518.9 624.7 L1520.5 627.3 L1522.1 630.1 L1523.8 633.1 L1525.4 636.3 L1527.0 639.6 L1528.6 643.1 L1530.3 646.8 L1531.9 650.6 L1533.5 654.6 L1535.2 658.7 L1536.8 662.9 L1538.4 667.3 L1540.1 671.8 L1541.7 676.4 L1543.3 681.2 L1544.9 686.0 L1546.6 691.0 L1548.2 696.0 L1549.8 701.1 L1551.5 706.4 L1553.1 711.7 L1554.7 717.0 L1556.4 722.4 L1558.0 727.8 L1559.6 733.2 L1561.3 738.6 L1562.9 744.0 L1564.5 749.2 L1566.1 754.3 L1567.8 759.3 L1569.4 764.2 L1571.0 768.8 L1572.7 773.3 L1574.3 777.5 L1575.9 781.4 L1577.6 785.1 L1579.2 788.4 L1580.8 791.5 L1582.4 794.2 L1584.1 796.6 L1585.7 798.8 L1587.3 800.6 L1589.0 802.2 L1590.6 803.5 L1592.2 804.5 L1593.9 805.2 L1595.5 805.7 L1597.1 806.0 L1598.7 806.0 L1600.4 805.7 L1602.0 805.2 L1603.6 804.4 L1605.3 803.4 L1606.9 802.1 L1608.5 800.6 L1610.2 798.8 L1611.8 796.7 L1613.4 794.3 L1615.0 791.7 L1616.7 788.8 L1618.3 785.6 L1619.9 782.1 L1621.6 778.4 L1623.2 774.4 L1624.8 770.2 L1626.5 765.8 L1628.1 761.2 L1629.7 756.4 L1631.3 751.5 L1633.0 746.4 L1634.6 741.3 L1636.2 736.0 L1637.9 730.7 L1639.5 725.3 L1641.1 719.9 L1642.8 714.5 L1644.4 709.1 L1646.0 703.7 L1647.6 698.3 L1649.3 693.0 L1650.9 687.7 L1652.5 682.6 L1654.2 677.5 L1655.8 672.5 L1657.4 667.6 L1659.1 662.9 L1660.7 658.3 L1662.3 653.8 L1663.9 649.5 L1665.6 645.4 L1667.2 641.5 L1668.8 637.7 L1670.5 634.2 L1672.1 630.9 L1673.7 627.9 L1675.4 625.1 L1677.0 622.5 L1678.6 620.2 L1680.2 618.1 L1681.9 616.3 L1683.5 614.8 L1685.1 613.5 L1686.8 612.5 L1688.4 611.9 L1690.0 611.5 L1691.7 611.4 L1693.3 611.6 L1694.9 612.2 L1696.5 613.0 L1698.2 614.1 L1699.8 615.4 L1701.4 617.0 L1703.1 618.9 L1704.7 621.0 L1706.3 623.3 L1708.0 625.8 L1709.6 628.5 L1711.2 631.4 L1712.9 634.4 L1714.5 637.7 L1716.1 641.0 L1717.7 644.6 L1719.4 648.3 L1721.0 652.1 L1722.6 656.0 L1724.3 660.1 L1725.9 664.3 L1727.5 668.6 L1729.2 673.0 L1730.8 677.6 L1732.4 682.2 L1734.0 686.9 L1735.7 691.8 L1737.3 696.7 L1738.9 701.7 L1740.6 706.8 L1742.2 711.9 L1743.8 717.1 L1745.5 722.4 L1747.1 727.7 L1748.7 732.9 L1750.3 738.2 L1752.0 743.4 L1753.6 748.5 L1755.2 753.5 L1756.9 758.4 L1758.5 763.1 L1760.1 767.7 L1761.8 772.1 L1763.4 776.2 L1765.0 780.1 L1766.6 783.8 L1768.3 787.2 L1769.9 790.2 L1771.5 793.0 L1773.2 795.5 L1774.8 797.7 L1776.4 799.6 L1778.1 801.2 L1779.7 802.5 L1781.3 803.6 L1782.9 804.4 L1784.6 804.9 L1786.2 805.1 L1787.8 805.1 L1789.5 804.8 L1791.1 804.2 L1792.7 803.4 L1794.4 802.3 L1796.0 801.0 L1797.6 799.4 L1799.2 797.5 L1800.9 795.4 L1802.5 793.0 L1804.1 790.4 L1805.8 787.5 L1807.4 784.4 L1809.0 781.1 L1810.7 777.5 L1812.3 773.7 L1813.9 769.7 L1815.5 765.6 L1817.2 761.3 L1818.8 756.9 L1820.4 752.4 L1822.1 747.8 L1823.7 743.2 L1825.3 738.4 L1827.0 733.6 L1828.6 728.6 L1830.2 723.5 L1831.8 718.2 L1833.5 712.8 L1835.1 707.1 L1836.7 701.3 L1838.4 695.4 L1840.0 689.4" fill="none" stroke="#191970" stroke-width="3.5" stroke-dasharray="12.9 5.6" stroke-linejoin="round"/>
<rect x="1397.6" y="594.7" width="463.4" height="232.1" fill="none" stroke="#000" stroke-width="1.95"/>
<line x1="1418.4" y1="826.8" x2="1418.4" y2="839.6" stroke="#000" stroke-width="2.7"/>
<text x="1418.4" y="872.2" text-anchor="middle">0</text>
<line x1="1523.3" y1="826.8" x2="1523.3" y2="839.6" stroke="#000" stroke-width="2.7"/>
<text x="1523.3" y="872.2" text-anchor="middle">154</text>
<line x1="1628.89" y1="826.8" x2="1628.89" y2="839.6" stroke="#000" stroke-width="2.7"/>
<text x="1628.89" y="872.2" text-anchor="middle">309</text>
<line x1="1734.48" y1="826.8" x2="1734.48" y2="839.6" stroke="#000" stroke-width="2.7"/>
<text x="1734.48" y="872.2" text-anchor="middle">464</text>
<line x1="1839.38" y1="826.8" x2="1839.38" y2="839.6" stroke="#000" stroke-width="2.7"/>
<text x="1839.38" y="872.2" text-anchor="middle">618</text>
<line x1="1384.8" y1="605.6" x2="1397.6" y2="605.6" stroke="#000" stroke-width="3.2"/>
<text x="1317.3" y="617.2">2</text>
<text x="1356.3" y="617.2">2</text>
<text transform="translate(1334.3 618.8) scale(1.5 1)" font-family="'DejaVu Sans Light', 'DejaVu Sans', sans-serif" font-weight="200" font-size="28" style="stroke-width:0.1px">√</text>
<line x1="1356.6" y1="592.9" x2="1371.2" y2="592.9" stroke="#000" stroke-width="1.4"/>
<line x1="1384.8" y1="711" x2="1397.6" y2="711" stroke="#000" stroke-width="3.2"/>
<text x="1370.9" y="720.4" text-anchor="end">0</text>
<line x1="1384.8" y1="816.4" x2="1397.6" y2="816.4" stroke="#000" stroke-width="3.2"/>
<text x="1317.3" y="828">2</text>
<text x="1356.3" y="828">2</text>
<text transform="translate(1334.3 829.6) scale(1.5 1)" font-family="'DejaVu Sans Light', 'DejaVu Sans', sans-serif" font-weight="200" font-size="28" style="stroke-width:0.1px">√</text>
<line x1="1356.6" y1="803.7" x2="1371.2" y2="803.7" stroke="#000" stroke-width="1.4"/>
<text x="1306.2" y="829" text-anchor="middle" font-family="'DejaVu Sans Light', 'DejaVu Sans', sans-serif" font-weight="200" font-size="27.56">−</text>
<line x1="1861" y1="636.5" x2="1873.8" y2="636.5" stroke="#000" stroke-width="3.2"/>
<text x="1886.5" y="645.8" text-anchor="start">2</text>
<line x1="1861" y1="711" x2="1873.8" y2="711" stroke="#000" stroke-width="3.2"/>
<text x="1886.5" y="720.3" text-anchor="start">0</text>
<line x1="1861" y1="785.6" x2="1873.8" y2="785.6" stroke="#000" stroke-width="3.2"/>
<text x="1886.5" y="794.9" text-anchor="start"><tspan font-family="'DejaVu Sans Light', 'DejaVu Sans', sans-serif" font-weight="200" font-size="27.56" dy="1">−</tspan><tspan dy="-1" font-size="1"> </tspan><tspan font-size="26">2</tspan></text>
<text x="1397" y="572" text-anchor="start" font-size="31.2" font-weight="bold">j</text>
<text x="1630.7" y="909.3" text-anchor="middle"><tspan font-style="italic">y</tspan><tspan font-style="italic" font-size="18.2" dy="3.9">s</tspan><tspan dy="-3.9" dx="2.6"> (rad</tspan><tspan font-family="'DejaVu Sans Light', 'DejaVu Sans', sans-serif" font-weight="200" font-size="31" dx="1.8" dy="2.2">/</tspan><tspan dy="-2.2" dx="3.2">mm)</tspan></text>
<text transform="translate(1268.3 713.0) rotate(-90)" text-anchor="middle"><tspan font-family="'DejaVu Sans Light', 'DejaVu Sans', sans-serif" font-weight="200" font-size="30" dy="1.5">⟨</tspan><tspan font-family="'DejaVu Math TeX Gyre', 'DejaVu Serif', serif" font-size="27" font-style="italic" dy="-1.5" dx="1">𝒮</tspan><tspan dx="1.2">(</tspan><tspan font-style="italic">x</tspan><tspan font-style="italic" font-size="18.2" dy="3.9">s</tspan><tspan dy="-3.9">, </tspan><tspan font-style="italic">y</tspan><tspan font-style="italic" font-size="18.2" dy="3.9">s</tspan><tspan dy="-3.9">)</tspan><tspan font-family="'DejaVu Sans Light', 'DejaVu Sans', sans-serif" font-weight="200" font-size="30" dy="1.5" dx="0.5">⟩</tspan><tspan font-style="italic" font-size="19.11" dy="3.2" dx="1">x</tspan><tspan font-style="italic" font-size="13.65" dy="2.8">s</tspan></text>
</svg>
</body></html>
